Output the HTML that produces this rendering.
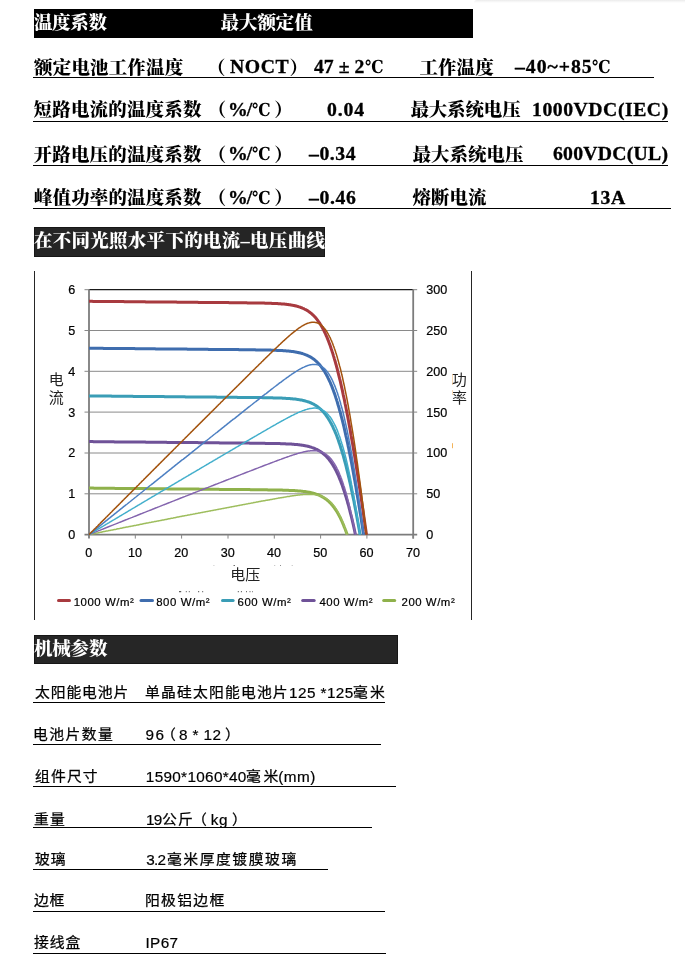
<!DOCTYPE html>
<html lang="zh-CN">
<head>
<meta charset="utf-8">
<title>温度系数 最大额定值</title>
<style>
html,body{margin:0;padding:0;background:#fff;}
body{width:685px;height:980px;position:relative;overflow:hidden;font-family:"Liberation Sans","Noto Sans CJK SC",sans-serif;color:#000;}
.t{position:absolute;white-space:pre;line-height:1;}
.ser{font-family:"Liberation Serif","Noto Serif CJK SC",serif;font-weight:900;font-size:18.5px;color:#000;}
.sel{font-family:"Liberation Serif","Noto Serif CJK SC",serif;font-weight:700;font-size:18.8px;color:#000;-webkit-text-stroke:0.3px #000;transform:scaleX(1.05);transform-origin:0 0;}
.dg{font-family:"DejaVu Serif","Liberation Serif",serif;font-weight:700;font-size:18px;color:#000;transform:scaleX(0.86);transform-origin:0 0;}
.sc{font-family:"Liberation Sans","Noto Sans CJK SC",sans-serif;font-weight:400;font-size:14.1px;color:#000;-webkit-text-stroke:0.25px #000;transform:scaleX(1.05);transform-origin:0 0;}
.sl{font-family:"Liberation Sans","Noto Sans CJK SC",sans-serif;font-weight:400;font-size:15.3px;color:#000;-webkit-text-stroke:0.2px #000;}
.bar{position:absolute;}
.hd{position:absolute;white-space:pre;line-height:1;color:#fff;font-family:"Liberation Serif","Noto Serif CJK SC",serif;font-weight:900;font-size:18.5px;}
.u{position:absolute;height:1.4px;background:#111;}
svg{position:absolute;left:0;top:0;}
svg text.ax{font-family:"Liberation Sans",sans-serif;font-size:12.6px;fill:#000;stroke:#000;stroke-width:0.2px;}
svg text.lg{font-family:"Liberation Sans",sans-serif;font-size:11.4px;fill:#000;stroke:#000;stroke-width:0.2px;}
svg text.cj{font-family:"Liberation Sans","Noto Sans CJK SC",sans-serif;font-size:15px;font-weight:400;fill:#222;}
</style>
</head>
<body>
<div class="bar" style="left:474px;top:0;width:211px;height:3px;background:linear-gradient(#ebebeb,#f6f6f6 50%,#fff);border-top-left-radius:3px;"></div>
<div class="bar" style="left:34px;top:9px;width:439px;height:29px;background:#000;"></div>
<div class="bar" style="left:34px;top:227px;width:291px;height:30px;background:#252525;border:1px solid #161616;box-sizing:border-box;"></div>
<div class="bar" style="left:34px;top:635px;width:364px;height:29px;background:#262626;border:1px solid #161616;box-sizing:border-box;"></div>

<span class="t hd" id="k1" style="left:33.9px;top:13.9px;letter-spacing:-0.316px;">温度系数</span>
<span class="t hd" id="k2" style="left:220.5px;top:13.9px;letter-spacing:-0.048px;">最大额定值</span>
<span class="t hd" id="k3" style="left:33.9px;top:232.1px;letter-spacing:0.286px;">在不同光照水平下的电流–电压曲线</span>
<span class="t hd" id="k4" style="left:33.9px;top:639.7px;letter-spacing:-0.151px;">机械参数</span>
<span class="t ser" id="k5" style="left:34.1px;top:58.7px;letter-spacing:0.150px;">额定电池工作温度</span>
<span class="t ser" id="k6" style="left:207.1px;top:58.7px;">（</span>
<span class="t sel" id="k7" style="left:229.7px;top:58.4px;letter-spacing:0.515px;">NOCT</span>
<span class="t ser" id="k8" style="left:289.5px;top:58.7px;">）</span>
<span class="t sel" id="k9" style="left:314.3px;top:58.4px;letter-spacing:0.010px;">47 ± 2</span>
<span class="t dg" id="k10" style="left:365.0px;top:58.1px;">℃</span>
<span class="t ser" id="k11" style="left:419.4px;top:58.7px;letter-spacing:0.100px;">工作温度</span>
<span class="t sel" id="k12" style="left:514.8px;top:58.4px;letter-spacing:0.924px;">–40~+85</span>
<span class="t dg" id="k13" style="left:591.5px;top:58.1px;">℃</span>
<span class="t ser" id="k14" style="left:33.6px;top:101.4px;letter-spacing:0.162px;">短路电流的温度系数</span>
<span class="t ser" id="k15" style="left:207.7px;top:101.4px;">（</span>
<span class="t sel" id="k16" style="left:228.2px;top:101.1px;letter-spacing:-0.950px;">%/</span>
<span class="t dg" id="k17" style="left:251.9px;top:100.8px;">℃</span>
<span class="t ser" id="k18" style="left:274.3px;top:101.4px;">）</span>
<span class="t sel" id="k19" style="left:326.6px;top:101.1px;letter-spacing:0.848px;">0.04</span>
<span class="t ser" id="k20" style="left:410.4px;top:101.4px;letter-spacing:-0.140px;">最大系统电压</span>
<span class="t sel" id="k21" style="left:531.5px;top:101.1px;letter-spacing:0.505px;">1000VDC(IEC)</span>
<span class="t ser" id="k22" style="left:33.6px;top:145.6px;letter-spacing:0.162px;">开路电压的温度系数</span>
<span class="t ser" id="k23" style="left:207.7px;top:145.6px;">（</span>
<span class="t sel" id="k24" style="left:228.2px;top:145.3px;letter-spacing:-0.950px;">%/</span>
<span class="t dg" id="k25" style="left:251.9px;top:145.0px;">℃</span>
<span class="t ser" id="k26" style="left:274.3px;top:145.6px;">）</span>
<span class="t sel" id="k27" style="left:308.7px;top:145.3px;letter-spacing:0.511px;">–0.34</span>
<span class="t ser" id="k28" style="left:412.5px;top:145.6px;letter-spacing:0.010px;">最大系统电压</span>
<span class="t sel" id="k29" style="left:552.8px;top:145.3px;letter-spacing:0.229px;">600VDC(UL)</span>
<span class="t ser" id="k30" style="left:33.9px;top:189.4px;letter-spacing:0.130px;">峰值功率的温度系数</span>
<span class="t ser" id="k31" style="left:207.7px;top:189.4px;">（</span>
<span class="t sel" id="k32" style="left:228.2px;top:189.1px;letter-spacing:-0.950px;">%/</span>
<span class="t dg" id="k33" style="left:251.9px;top:188.8px;">℃</span>
<span class="t ser" id="k34" style="left:274.3px;top:189.4px;">）</span>
<span class="t sel" id="k35" style="left:308.7px;top:189.1px;letter-spacing:0.574px;">–0.46</span>
<span class="t ser" id="k36" style="left:412.5px;top:189.4px;letter-spacing:0.019px;">熔断电流</span>
<span class="t sel" id="k37" style="left:589.8px;top:189.1px;letter-spacing:0.650px;">13A</span>
<span class="t sc" id="k38" style="left:34.5px;top:684.8px;letter-spacing:0.860px;">太阳能电池片</span>
<span class="t sc" id="k39" style="left:145.2px;top:684.8px;letter-spacing:1.128px;">单晶硅太阳能电池片</span>
<span class="t sl" id="k40" style="left:289.0px;top:684.8px;letter-spacing:0.435px;">125 *125</span>
<span class="t sc" id="k41" style="left:352.8px;top:684.8px;letter-spacing:2.050px;">毫米</span>
<span class="t sc" id="k42" style="left:32.8px;top:727.1px;letter-spacing:1.386px;">电池片数量</span>
<span class="t sl" id="k43" style="left:145.6px;top:727.1px;letter-spacing:1.300px;">96</span>
<span class="t sc" id="k44" style="left:160.6px;top:727.1px;">（</span>
<span class="t sl" id="k45" style="left:178.9px;top:727.1px;letter-spacing:0.410px;">8 * 12</span>
<span class="t sc" id="k46" style="left:225.4px;top:727.1px;">）</span>
<span class="t sc" id="k47" style="left:34.5px;top:768.9px;letter-spacing:1.099px;">组件尺寸</span>
<span class="t sl" id="k48" style="left:145.8px;top:768.9px;letter-spacing:0.322px;">1590*1060*40</span>
<span class="t sc" id="k49" style="left:245.9px;top:768.9px;letter-spacing:2.550px;">毫米</span>
<span class="t sl" id="k50" style="left:278.2px;top:768.9px;letter-spacing:0.518px;">(mm)</span>
<span class="t sc" id="k51" style="left:33.8px;top:811.6px;letter-spacing:1.050px;">重量</span>
<span class="t sl" id="k52" style="left:146.0px;top:811.6px;letter-spacing:-0.700px;">19</span>
<span class="t sc" id="k53" style="left:162.2px;top:811.6px;letter-spacing:1.050px;">公斤</span>
<span class="t sc" id="k54" style="left:191.5px;top:811.6px;">（</span>
<span class="t sl" id="k55" style="left:210.8px;top:811.6px;letter-spacing:0.550px;">kg</span>
<span class="t sc" id="k56" style="left:232.4px;top:811.6px;">）</span>
<span class="t sc" id="k57" style="left:34.5px;top:852.2px;letter-spacing:0.800px;">玻璃</span>
<span class="t sl" id="k58" style="left:146.3px;top:852.2px;letter-spacing:-0.725px;">3.2</span>
<span class="t sc" id="k59" style="left:166.7px;top:852.2px;letter-spacing:1.470px;">毫米厚度镀膜玻璃</span>
<span class="t sc" id="k60" style="left:34.2px;top:893.1px;letter-spacing:0.550px;">边框</span>
<span class="t sc" id="k61" style="left:144.9px;top:893.1px;letter-spacing:1.263px;">阳极铝边框</span>
<span class="t sc" id="k62" style="left:34.2px;top:935.2px;letter-spacing:0.900px;">接线盒</span>
<span class="t sl" id="k63" style="left:145.5px;top:935.2px;letter-spacing:0.352px;">IP67</span>
<svg width="685" height="980" viewBox="0 0 685 980">
<line x1="89.0" y1="493.8" x2="413.2" y2="493.8" stroke="#8a8a8a" stroke-width="1"/>
<line x1="89.0" y1="453.0" x2="413.2" y2="453.0" stroke="#8a8a8a" stroke-width="1"/>
<line x1="89.0" y1="412.1" x2="413.2" y2="412.1" stroke="#8a8a8a" stroke-width="1"/>
<line x1="89.0" y1="371.3" x2="413.2" y2="371.3" stroke="#8a8a8a" stroke-width="1"/>
<line x1="89.0" y1="330.5" x2="413.2" y2="330.5" stroke="#8a8a8a" stroke-width="1"/>
<line x1="89.0" y1="289.7" x2="413.2" y2="289.7" stroke="#1a1a1a" stroke-width="1.2"/>
<line x1="89.0" y1="289.2" x2="89.0" y2="538.6" stroke="#7c7c7c" stroke-width="1.8"/>
<line x1="413.2" y1="289.2" x2="413.2" y2="538.6" stroke="#7c7c7c" stroke-width="1.8"/>
<line x1="84.5" y1="534.6" x2="417.2" y2="534.6" stroke="#7c7c7c" stroke-width="1.8"/>
<line x1="84.5" y1="493.8" x2="89.0" y2="493.8" stroke="#868686" stroke-width="1"/>
<line x1="413.2" y1="493.8" x2="417.2" y2="493.8" stroke="#868686" stroke-width="1"/>
<line x1="84.5" y1="453.0" x2="89.0" y2="453.0" stroke="#868686" stroke-width="1"/>
<line x1="413.2" y1="453.0" x2="417.2" y2="453.0" stroke="#868686" stroke-width="1"/>
<line x1="84.5" y1="412.1" x2="89.0" y2="412.1" stroke="#868686" stroke-width="1"/>
<line x1="413.2" y1="412.1" x2="417.2" y2="412.1" stroke="#868686" stroke-width="1"/>
<line x1="84.5" y1="371.3" x2="89.0" y2="371.3" stroke="#868686" stroke-width="1"/>
<line x1="413.2" y1="371.3" x2="417.2" y2="371.3" stroke="#868686" stroke-width="1"/>
<line x1="84.5" y1="330.5" x2="89.0" y2="330.5" stroke="#868686" stroke-width="1"/>
<line x1="413.2" y1="330.5" x2="417.2" y2="330.5" stroke="#868686" stroke-width="1"/>
<line x1="84.5" y1="289.7" x2="89.0" y2="289.7" stroke="#868686" stroke-width="1"/>
<line x1="413.2" y1="289.7" x2="417.2" y2="289.7" stroke="#868686" stroke-width="1"/>
<line x1="135.3" y1="534.6" x2="135.3" y2="538.6" stroke="#868686" stroke-width="1"/>
<line x1="181.6" y1="534.6" x2="181.6" y2="538.6" stroke="#868686" stroke-width="1"/>
<line x1="228.0" y1="534.6" x2="228.0" y2="538.6" stroke="#868686" stroke-width="1"/>
<line x1="274.3" y1="534.6" x2="274.3" y2="538.6" stroke="#868686" stroke-width="1"/>
<line x1="320.6" y1="534.6" x2="320.6" y2="538.6" stroke="#868686" stroke-width="1"/>
<line x1="366.9" y1="534.6" x2="366.9" y2="538.6" stroke="#868686" stroke-width="1"/>
<line x1="413.2" y1="534.6" x2="413.2" y2="538.6" stroke="#868686" stroke-width="1"/>
<path d="M89.0 488.1 L89.7 488.1 L90.6 488.1 L91.5 488.1 L92.3 488.1 L93.2 488.1 L94.1 488.2 L95.0 488.2 L95.9 488.2 L96.7 488.2 L97.6 488.2 L98.5 488.2 L99.4 488.2 L100.2 488.2 L101.1 488.2 L102.0 488.2 L102.9 488.2 L103.8 488.2 L104.6 488.3 L105.5 488.3 L106.4 488.3 L107.3 488.3 L108.2 488.3 L109.0 488.3 L109.9 488.3 L110.8 488.3 L111.7 488.3 L112.5 488.3 L113.4 488.3 L114.3 488.3 L115.2 488.4 L116.1 488.4 L116.9 488.4 L117.8 488.4 L118.7 488.4 L119.6 488.4 L120.4 488.4 L121.3 488.4 L122.2 488.4 L123.1 488.4 L124.0 488.4 L124.8 488.4 L125.7 488.5 L126.6 488.5 L127.5 488.5 L128.4 488.5 L129.2 488.5 L130.1 488.5 L131.0 488.5 L131.9 488.5 L132.7 488.5 L133.6 488.5 L134.5 488.5 L135.4 488.5 L136.3 488.6 L137.1 488.6 L138.0 488.6 L138.9 488.6 L139.8 488.6 L140.7 488.6 L141.5 488.6 L142.4 488.6 L143.3 488.6 L144.2 488.6 L145.0 488.6 L145.9 488.6 L146.8 488.7 L147.7 488.7 L148.6 488.7 L149.4 488.7 L150.3 488.7 L151.2 488.7 L152.1 488.7 L153.0 488.7 L153.8 488.7 L154.7 488.7 L155.6 488.7 L156.5 488.7 L157.3 488.8 L158.2 488.8 L159.1 488.8 L160.0 488.8 L160.9 488.8 L161.7 488.8 L162.6 488.8 L163.5 488.8 L164.4 488.8 L165.3 488.8 L166.1 488.8 L167.0 488.8 L167.9 488.9 L168.8 488.9 L169.6 488.9 L170.5 488.9 L171.4 488.9 L172.3 488.9 L173.2 488.9 L174.0 488.9 L174.9 488.9 L175.8 488.9 L176.7 488.9 L177.6 488.9 L178.4 489.0 L179.3 489.0 L180.2 489.0 L181.1 489.0 L181.9 489.0 L182.8 489.0 L183.7 489.0 L184.6 489.0 L185.5 489.0 L186.3 489.0 L187.2 489.0 L188.1 489.0 L189.0 489.1 L189.9 489.1 L190.7 489.1 L191.6 489.1 L192.5 489.1 L193.4 489.1 L194.2 489.1 L195.1 489.1 L196.0 489.1 L196.9 489.1 L197.8 489.1 L198.6 489.1 L199.5 489.2 L200.4 489.2 L201.3 489.2 L202.2 489.2 L203.0 489.2 L203.9 489.2 L204.8 489.2 L205.7 489.2 L206.5 489.2 L207.4 489.2 L208.3 489.2 L209.2 489.3 L210.1 489.3 L210.9 489.3 L211.8 489.3 L212.7 489.3 L213.6 489.3 L214.5 489.3 L215.3 489.3 L216.2 489.3 L217.1 489.3 L218.0 489.3 L218.8 489.3 L219.7 489.4 L220.6 489.4 L221.5 489.4 L222.4 489.4 L223.2 489.4 L224.1 489.4 L225.0 489.4 L225.9 489.4 L226.8 489.4 L227.6 489.4 L228.5 489.4 L229.4 489.4 L230.3 489.5 L231.1 489.5 L232.0 489.5 L232.9 489.5 L233.8 489.5 L234.7 489.5 L235.5 489.5 L236.4 489.5 L237.3 489.5 L238.2 489.5 L239.1 489.5 L239.9 489.5 L240.8 489.6 L241.7 489.6 L242.6 489.6 L243.4 489.6 L244.3 489.6 L245.2 489.6 L246.1 489.6 L247.0 489.6 L247.8 489.6 L248.7 489.6 L249.6 489.6 L250.5 489.7 L251.4 489.7 L252.2 489.7 L253.1 489.7 L254.0 489.7 L254.9 489.7 L255.7 489.7 L256.6 489.7 L257.5 489.7 L258.4 489.7 L259.3 489.8 L260.1 489.8 L261.0 489.8 L261.9 489.8 L262.8 489.8 L263.7 489.8 L264.5 489.8 L265.4 489.8 L266.3 489.8 L267.2 489.8 L268.0 489.9 L268.9 489.9 L269.8 489.9 L270.7 489.9 L271.6 489.9 L272.4 489.9 L273.3 489.9 L274.2 490.0 L275.1 490.0 L276.0 490.0 L276.8 490.0 L277.7 490.0 L278.6 490.0 L279.5 490.1 L280.4 490.1 L281.2 490.1 L282.1 490.1 L283.0 490.2 L283.9 490.2 L284.8 490.2 L285.6 490.2 L286.5 490.3 L287.4 490.3 L288.3 490.3 L289.2 490.4 L290.0 490.4 L290.9 490.4 L291.8 490.5 L292.7 490.5 L293.6 490.6 L294.5 490.6 L295.3 490.7 L296.2 490.7 L297.1 490.8 L298.0 490.9 L298.9 490.9 L299.8 491.0 L300.6 491.1 L301.5 491.2 L302.4 491.3 L303.3 491.4 L304.2 491.5 L305.1 491.6 L306.0 491.7 L306.9 491.9 L307.7 492.0 L308.6 492.2 L309.5 492.3 L310.4 492.5 L311.3 492.7 L312.2 492.9 L313.1 493.2 L313.7 493.3 L314.3 493.5 L314.9 493.7 L315.5 493.9 L316.1 494.1 L316.7 494.3 L317.3 494.5 L317.9 494.7 L318.6 495.0 L319.2 495.2 L319.8 495.5 L320.4 495.8 L321.0 496.1 L321.6 496.4 L322.2 496.8 L322.8 497.1 L323.5 497.5 L324.1 497.9 L324.7 498.3 L325.3 498.7 L326.0 499.2 L326.6 499.7 L327.2 500.2 L327.9 500.7 L328.5 501.3 L329.1 501.9 L329.8 502.5 L330.4 503.1 L331.1 503.8 L331.7 504.6 L332.4 505.3 L333.0 506.2 L333.7 507.0 L334.4 507.9 L335.0 508.9 L335.7 509.9 L336.4 510.9 L337.1 512.0 L337.8 513.2 L338.1 513.8 L338.5 514.5 L338.8 515.1 L339.2 515.8 L339.5 516.4 L339.9 517.1 L340.3 517.8 L340.6 518.6 L341.0 519.3 L341.3 520.1 L341.7 520.9 L342.1 521.7 L342.4 522.5 L342.8 523.4 L343.2 524.3 L343.6 525.2 L343.9 526.1 L344.3 527.1 L344.7 528.0 L345.1 529.0 L345.5 530.1 L345.9 531.1 L346.3 532.2 L346.7 533.3 L347.1 534.5 L347.1 534.6" fill="none" stroke="#8FB14B" stroke-width="3" stroke-linejoin="round"/>
<path d="M89.0 441.6 L89.8 441.6 L90.4 441.6 L91.0 441.6 L91.6 441.6 L92.2 441.6 L92.8 441.6 L93.4 441.7 L94.0 441.7 L94.6 441.7 L95.2 441.7 L95.8 441.7 L96.4 441.7 L97.0 441.7 L97.6 441.7 L98.3 441.7 L98.9 441.7 L99.5 441.7 L100.1 441.7 L100.7 441.7 L101.3 441.7 L101.9 441.7 L102.5 441.7 L103.1 441.7 L103.7 441.8 L104.3 441.8 L104.9 441.8 L105.5 441.8 L106.1 441.8 L106.7 441.8 L107.3 441.8 L107.9 441.8 L108.5 441.8 L109.1 441.8 L109.7 441.8 L110.3 441.8 L110.9 441.8 L111.5 441.8 L112.1 441.8 L112.7 441.8 L113.3 441.8 L113.9 441.8 L114.5 441.9 L115.2 441.9 L115.8 441.9 L116.4 441.9 L117.0 441.9 L117.6 441.9 L118.2 441.9 L118.8 441.9 L119.4 441.9 L120.0 441.9 L120.6 441.9 L121.2 441.9 L121.8 441.9 L122.4 441.9 L123.0 441.9 L123.6 441.9 L124.2 441.9 L124.8 442.0 L125.4 442.0 L126.0 442.0 L126.6 442.0 L127.2 442.0 L127.8 442.0 L128.4 442.0 L129.0 442.0 L129.6 442.0 L130.2 442.0 L130.8 442.0 L131.4 442.0 L132.1 442.0 L132.7 442.0 L133.3 442.0 L133.9 442.0 L134.5 442.0 L135.1 442.1 L135.7 442.1 L136.3 442.1 L136.9 442.1 L137.5 442.1 L138.1 442.1 L138.7 442.1 L139.3 442.1 L139.9 442.1 L140.5 442.1 L141.1 442.1 L141.7 442.1 L142.3 442.1 L142.9 442.1 L143.5 442.1 L144.1 442.1 L144.7 442.1 L145.3 442.1 L145.9 442.2 L146.5 442.2 L147.1 442.2 L147.7 442.2 L148.3 442.2 L149.0 442.2 L149.6 442.2 L150.2 442.2 L150.8 442.2 L151.4 442.2 L152.0 442.2 L152.6 442.2 L153.2 442.2 L153.8 442.2 L154.4 442.2 L155.0 442.2 L155.6 442.2 L156.2 442.3 L156.8 442.3 L157.4 442.3 L158.0 442.3 L158.6 442.3 L159.2 442.3 L159.8 442.3 L160.4 442.3 L161.0 442.3 L161.6 442.3 L162.2 442.3 L162.8 442.3 L163.4 442.3 L164.0 442.3 L164.6 442.3 L165.2 442.3 L165.9 442.3 L166.5 442.3 L167.1 442.4 L167.7 442.4 L168.3 442.4 L168.9 442.4 L169.5 442.4 L170.1 442.4 L170.7 442.4 L171.3 442.4 L171.9 442.4 L172.5 442.4 L173.1 442.4 L173.7 442.4 L174.3 442.4 L174.9 442.4 L175.5 442.4 L176.1 442.4 L176.7 442.4 L177.3 442.5 L177.9 442.5 L178.5 442.5 L179.1 442.5 L179.7 442.5 L180.3 442.5 L180.9 442.5 L181.5 442.5 L182.1 442.5 L182.8 442.5 L183.4 442.5 L184.0 442.5 L184.6 442.5 L185.2 442.5 L185.8 442.5 L186.4 442.5 L187.0 442.5 L187.6 442.6 L188.2 442.6 L188.8 442.6 L189.4 442.6 L190.0 442.6 L190.6 442.6 L191.2 442.6 L191.8 442.6 L192.4 442.6 L193.0 442.6 L193.6 442.6 L194.2 442.6 L194.8 442.6 L195.4 442.6 L196.0 442.6 L196.6 442.6 L197.2 442.6 L197.8 442.6 L198.4 442.7 L199.0 442.7 L199.7 442.7 L200.3 442.7 L200.9 442.7 L201.5 442.7 L202.1 442.7 L202.7 442.7 L203.3 442.7 L203.9 442.7 L204.5 442.7 L205.1 442.7 L205.7 442.7 L206.3 442.7 L206.9 442.7 L207.5 442.7 L208.1 442.7 L208.7 442.8 L209.3 442.8 L209.9 442.8 L210.5 442.8 L211.1 442.8 L211.7 442.8 L212.3 442.8 L212.9 442.8 L213.5 442.8 L214.1 442.8 L214.7 442.8 L215.3 442.8 L215.9 442.8 L216.6 442.8 L217.2 442.8 L217.8 442.8 L218.4 442.8 L219.0 442.8 L219.6 442.9 L220.2 442.9 L220.8 442.9 L221.4 442.9 L222.0 442.9 L222.6 442.9 L223.2 442.9 L223.8 442.9 L224.4 442.9 L225.0 442.9 L225.6 442.9 L226.2 442.9 L226.8 442.9 L227.4 442.9 L228.0 442.9 L228.6 442.9 L229.2 442.9 L229.8 443.0 L230.4 443.0 L231.0 443.0 L231.6 443.0 L232.2 443.0 L232.8 443.0 L233.5 443.0 L234.1 443.0 L234.7 443.0 L235.3 443.0 L235.9 443.0 L236.5 443.0 L237.1 443.0 L237.7 443.0 L238.3 443.0 L238.9 443.0 L239.5 443.0 L240.1 443.1 L240.7 443.1 L241.3 443.1 L241.9 443.1 L242.5 443.1 L243.1 443.1 L243.7 443.1 L244.3 443.1 L244.9 443.1 L245.5 443.1 L246.1 443.1 L246.7 443.1 L247.3 443.1 L247.9 443.1 L248.5 443.1 L249.1 443.1 L249.8 443.2 L250.4 443.2 L251.0 443.2 L251.6 443.2 L252.2 443.2 L252.8 443.2 L253.4 443.2 L254.0 443.2 L254.6 443.2 L255.2 443.2 L255.8 443.2 L256.4 443.2 L257.0 443.2 L257.6 443.2 L258.2 443.3 L258.8 443.3 L259.4 443.3 L260.0 443.3 L260.6 443.3 L261.2 443.3 L261.8 443.3 L262.4 443.3 L263.0 443.3 L263.6 443.3 L264.2 443.3 L264.8 443.3 L265.4 443.4 L266.1 443.4 L266.7 443.4 L267.3 443.4 L267.9 443.4 L268.5 443.4 L269.1 443.4 L269.7 443.4 L270.3 443.4 L270.9 443.4 L271.5 443.4 L272.1 443.5 L272.7 443.5 L273.3 443.5 L273.9 443.5 L274.5 443.5 L275.1 443.5 L275.7 443.5 L276.3 443.6 L276.9 443.6 L277.5 443.6 L278.1 443.6 L278.7 443.6 L279.3 443.6 L279.9 443.6 L280.6 443.7 L281.2 443.7 L281.8 443.7 L282.4 443.7 L283.0 443.7 L283.6 443.8 L284.2 443.8 L284.8 443.8 L285.4 443.8 L286.0 443.9 L286.6 443.9 L287.2 443.9 L287.8 443.9 L288.4 444.0 L289.0 444.0 L289.6 444.0 L290.2 444.1 L290.8 444.1 L291.5 444.1 L292.1 444.2 L292.7 444.2 L293.3 444.3 L293.9 444.3 L294.5 444.4 L295.1 444.4 L295.7 444.5 L296.3 444.5 L296.9 444.6 L297.5 444.6 L298.1 444.7 L298.7 444.8 L299.4 444.8 L300.0 444.9 L300.6 445.0 L301.2 445.1 L301.8 445.2 L302.4 445.2 L303.0 445.3 L303.6 445.4 L304.2 445.6 L304.9 445.7 L305.5 445.8 L306.1 445.9 L306.7 446.0 L307.3 446.2 L307.9 446.3 L308.6 446.5 L309.2 446.6 L309.8 446.8 L310.4 447.0 L311.0 447.2 L311.6 447.4 L312.3 447.6 L312.9 447.8 L313.5 448.0 L314.1 448.3 L314.8 448.5 L315.4 448.8 L316.0 449.1 L316.7 449.4 L317.3 449.7 L317.9 450.0 L318.6 450.4 L319.2 450.8 L319.8 451.1 L320.5 451.6 L321.1 452.0 L321.8 452.5 L322.4 452.9 L323.1 453.5 L323.7 454.0 L324.4 454.6 L325.0 455.2 L325.7 455.8 L326.4 456.5 L327.0 457.2 L327.7 457.9 L328.4 458.7 L329.1 459.6 L329.7 460.5 L330.4 461.4 L331.1 462.4 L331.8 463.4 L332.5 464.5 L333.2 465.6 L333.6 466.2 L333.9 466.9 L334.3 467.5 L334.7 468.1 L335.0 468.8 L335.4 469.5 L335.8 470.2 L336.1 470.9 L336.5 471.7 L336.9 472.4 L337.2 473.2 L337.6 474.0 L338.0 474.9 L338.4 475.7 L338.8 476.6 L339.1 477.5 L339.5 478.4 L339.9 479.4 L340.3 480.3 L340.7 481.3 L341.1 482.4 L341.5 483.4 L341.9 484.5 L342.3 485.6 L342.7 486.8 L343.1 488.0 L343.5 489.2 L343.9 490.4 L344.4 491.7 L344.8 493.0 L345.2 494.4 L345.6 495.8 L346.1 497.2 L346.5 498.7 L347.0 500.2 L347.4 501.7 L347.8 503.3 L348.3 504.9 L348.8 506.6 L349.2 508.3 L349.7 510.1 L350.1 511.9 L350.6 513.8 L351.1 515.7 L351.6 517.7 L352.1 519.7 L352.6 521.8 L353.1 523.9 L353.6 526.1 L354.1 528.4 L354.6 530.7 L355.1 533.1 L355.4 534.6" fill="none" stroke="#6F5298" stroke-width="3" stroke-linejoin="round"/>
<path d="M89.0 395.9 L89.7 395.9 L90.4 395.9 L91.0 396.0 L91.6 396.0 L92.2 396.0 L92.8 396.0 L93.4 396.0 L94.0 396.0 L94.7 396.0 L95.3 396.0 L95.9 396.0 L96.5 396.0 L97.1 396.0 L97.7 396.0 L98.3 396.0 L98.9 396.0 L99.6 396.0 L100.2 396.0 L100.8 396.0 L101.4 396.1 L102.0 396.1 L102.6 396.1 L103.2 396.1 L103.9 396.1 L104.5 396.1 L105.1 396.1 L105.7 396.1 L106.3 396.1 L106.9 396.1 L107.5 396.1 L108.2 396.1 L108.8 396.1 L109.4 396.1 L110.0 396.1 L110.6 396.1 L111.2 396.1 L111.8 396.2 L112.4 396.2 L113.1 396.2 L113.7 396.2 L114.3 396.2 L114.9 396.2 L115.5 396.2 L116.1 396.2 L116.7 396.2 L117.4 396.2 L118.0 396.2 L118.6 396.2 L119.2 396.2 L119.8 396.2 L120.4 396.2 L121.0 396.2 L121.7 396.2 L122.3 396.3 L122.9 396.3 L123.5 396.3 L124.1 396.3 L124.7 396.3 L125.3 396.3 L125.9 396.3 L126.6 396.3 L127.2 396.3 L127.8 396.3 L128.4 396.3 L129.0 396.3 L129.6 396.3 L130.2 396.3 L130.9 396.3 L131.5 396.3 L132.1 396.3 L132.7 396.3 L133.3 396.4 L133.9 396.4 L134.5 396.4 L135.2 396.4 L135.8 396.4 L136.4 396.4 L137.0 396.4 L137.6 396.4 L138.2 396.4 L138.8 396.4 L139.5 396.4 L140.1 396.4 L140.7 396.4 L141.3 396.4 L141.9 396.4 L142.5 396.4 L143.1 396.4 L143.7 396.5 L144.4 396.5 L145.0 396.5 L145.6 396.5 L146.2 396.5 L146.8 396.5 L147.4 396.5 L148.0 396.5 L148.7 396.5 L149.3 396.5 L149.9 396.5 L150.5 396.5 L151.1 396.5 L151.7 396.5 L152.3 396.5 L153.0 396.5 L153.6 396.5 L154.2 396.6 L154.8 396.6 L155.4 396.6 L156.0 396.6 L156.6 396.6 L157.2 396.6 L157.9 396.6 L158.5 396.6 L159.1 396.6 L159.7 396.6 L160.3 396.6 L160.9 396.6 L161.5 396.6 L162.2 396.6 L162.8 396.6 L163.4 396.6 L164.0 396.6 L164.6 396.7 L165.2 396.7 L165.8 396.7 L166.5 396.7 L167.1 396.7 L167.7 396.7 L168.3 396.7 L168.9 396.7 L169.5 396.7 L170.1 396.7 L170.7 396.7 L171.4 396.7 L172.0 396.7 L172.6 396.7 L173.2 396.7 L173.8 396.7 L174.4 396.7 L175.0 396.8 L175.7 396.8 L176.3 396.8 L176.9 396.8 L177.5 396.8 L178.1 396.8 L178.7 396.8 L179.3 396.8 L180.0 396.8 L180.6 396.8 L181.2 396.8 L181.8 396.8 L182.4 396.8 L183.0 396.8 L183.6 396.8 L184.2 396.8 L184.9 396.8 L185.5 396.9 L186.1 396.9 L186.7 396.9 L187.3 396.9 L187.9 396.9 L188.5 396.9 L189.2 396.9 L189.8 396.9 L190.4 396.9 L191.0 396.9 L191.6 396.9 L192.2 396.9 L192.8 396.9 L193.5 396.9 L194.1 396.9 L194.7 396.9 L195.3 396.9 L195.9 397.0 L196.5 397.0 L197.1 397.0 L197.7 397.0 L198.4 397.0 L199.0 397.0 L199.6 397.0 L200.2 397.0 L200.8 397.0 L201.4 397.0 L202.0 397.0 L202.7 397.0 L203.3 397.0 L203.9 397.0 L204.5 397.0 L205.1 397.0 L205.7 397.0 L206.3 397.1 L207.0 397.1 L207.6 397.1 L208.2 397.1 L208.8 397.1 L209.4 397.1 L210.0 397.1 L210.6 397.1 L211.2 397.1 L211.9 397.1 L212.5 397.1 L213.1 397.1 L213.7 397.1 L214.3 397.1 L214.9 397.1 L215.5 397.1 L216.2 397.1 L216.8 397.2 L217.4 397.2 L218.0 397.2 L218.6 397.2 L219.2 397.2 L219.8 397.2 L220.5 397.2 L221.1 397.2 L221.7 397.2 L222.3 397.2 L222.9 397.2 L223.5 397.2 L224.1 397.2 L224.7 397.2 L225.4 397.2 L226.0 397.2 L226.6 397.2 L227.2 397.3 L227.8 397.3 L228.4 397.3 L229.0 397.3 L229.7 397.3 L230.3 397.3 L230.9 397.3 L231.5 397.3 L232.1 397.3 L232.7 397.3 L233.3 397.3 L234.0 397.3 L234.6 397.3 L235.2 397.3 L235.8 397.3 L236.4 397.3 L237.0 397.3 L237.6 397.4 L238.3 397.4 L238.9 397.4 L239.5 397.4 L240.1 397.4 L240.7 397.4 L241.3 397.4 L241.9 397.4 L242.5 397.4 L243.2 397.4 L243.8 397.4 L244.4 397.4 L245.0 397.4 L245.6 397.4 L246.2 397.4 L246.8 397.5 L247.5 397.5 L248.1 397.5 L248.7 397.5 L249.3 397.5 L249.9 397.5 L250.5 397.5 L251.1 397.5 L251.8 397.5 L252.4 397.5 L253.0 397.5 L253.6 397.5 L254.2 397.5 L254.8 397.5 L255.4 397.6 L256.0 397.6 L256.7 397.6 L257.3 397.6 L257.9 397.6 L258.5 397.6 L259.1 397.6 L259.7 397.6 L260.3 397.6 L261.0 397.6 L261.6 397.6 L262.2 397.6 L262.8 397.7 L263.4 397.7 L264.0 397.7 L264.6 397.7 L265.3 397.7 L265.9 397.7 L266.5 397.7 L267.1 397.7 L267.7 397.7 L268.3 397.8 L268.9 397.8 L269.6 397.8 L270.2 397.8 L270.8 397.8 L271.4 397.8 L272.0 397.8 L272.6 397.8 L273.2 397.9 L273.9 397.9 L274.5 397.9 L275.1 397.9 L275.7 397.9 L276.3 397.9 L276.9 398.0 L277.5 398.0 L278.2 398.0 L278.8 398.0 L279.4 398.0 L280.0 398.1 L280.6 398.1 L281.2 398.1 L281.9 398.1 L282.5 398.2 L283.1 398.2 L283.7 398.2 L284.3 398.3 L284.9 398.3 L285.5 398.3 L286.2 398.4 L286.8 398.4 L287.4 398.4 L288.0 398.5 L288.6 398.5 L289.2 398.6 L289.9 398.6 L290.5 398.7 L291.1 398.7 L291.7 398.8 L292.3 398.8 L293.0 398.9 L293.6 398.9 L294.2 399.0 L294.8 399.1 L295.4 399.1 L296.1 399.2 L296.7 399.3 L297.3 399.4 L297.9 399.5 L298.5 399.6 L299.2 399.7 L299.8 399.8 L300.4 399.9 L301.0 400.0 L301.7 400.1 L302.3 400.2 L302.9 400.4 L303.5 400.5 L304.2 400.7 L304.8 400.8 L305.4 401.0 L306.0 401.2 L306.7 401.4 L307.3 401.6 L307.9 401.8 L308.6 402.0 L309.2 402.2 L309.8 402.5 L310.5 402.7 L311.1 403.0 L311.8 403.3 L312.4 403.6 L313.0 403.9 L313.7 404.2 L314.3 404.6 L315.0 405.0 L315.6 405.4 L316.3 405.8 L316.9 406.2 L317.6 406.7 L318.2 407.2 L318.9 407.7 L319.6 408.3 L320.2 408.8 L320.9 409.5 L321.6 410.1 L322.3 410.8 L322.9 411.5 L323.6 412.3 L324.3 413.1 L325.0 413.9 L325.7 414.8 L326.4 415.8 L327.1 416.8 L327.8 417.8 L328.5 419.0 L329.2 420.1 L329.6 420.8 L330.0 421.4 L330.3 422.0 L330.7 422.7 L331.1 423.4 L331.5 424.1 L331.8 424.8 L332.2 425.6 L332.6 426.3 L333.0 427.1 L333.3 427.9 L333.7 428.8 L334.1 429.6 L334.5 430.5 L334.9 431.4 L335.3 432.4 L335.7 433.3 L336.1 434.3 L336.5 435.3 L336.9 436.3 L337.3 437.4 L337.7 438.5 L338.1 439.6 L338.5 440.8 L338.9 442.0 L339.3 443.2 L339.8 444.5 L340.2 445.8 L340.6 447.1 L341.0 448.5 L341.5 449.9 L341.9 451.3 L342.4 452.8 L342.8 454.3 L343.3 455.9 L343.7 457.5 L344.2 459.2 L344.6 460.9 L345.1 462.6 L345.6 464.4 L346.1 466.3 L346.5 468.2 L347.0 470.1 L347.5 472.2 L348.0 474.2 L348.5 476.3 L349.0 478.5 L349.5 480.8 L350.1 483.1 L350.6 485.5 L351.1 487.9 L351.6 490.4 L352.2 493.0 L352.7 495.6 L353.3 498.3 L353.9 501.1 L354.4 504.0 L355.0 507.0 L355.6 510.0 L356.2 513.1 L356.8 516.4 L357.4 519.7 L358.0 523.1 L358.6 526.5 L359.3 530.1 L359.9 533.8 L360.1 534.6" fill="none" stroke="#3A9DB6" stroke-width="3" stroke-linejoin="round"/>
<path d="M89.0 348.2 L89.9 348.2 L90.5 348.2 L91.1 348.2 L91.7 348.2 L92.4 348.2 L93.0 348.3 L93.6 348.3 L94.2 348.3 L94.8 348.3 L95.5 348.3 L96.1 348.3 L96.7 348.3 L97.3 348.3 L98.0 348.3 L98.6 348.3 L99.2 348.3 L99.8 348.3 L100.4 348.3 L101.1 348.3 L101.7 348.3 L102.3 348.3 L102.9 348.3 L103.5 348.4 L104.2 348.4 L104.8 348.4 L105.4 348.4 L106.0 348.4 L106.7 348.4 L107.3 348.4 L107.9 348.4 L108.5 348.4 L109.1 348.4 L109.8 348.4 L110.4 348.4 L111.0 348.4 L111.6 348.4 L112.2 348.4 L112.9 348.4 L113.5 348.4 L114.1 348.5 L114.7 348.5 L115.3 348.5 L116.0 348.5 L116.6 348.5 L117.2 348.5 L117.8 348.5 L118.5 348.5 L119.1 348.5 L119.7 348.5 L120.3 348.5 L120.9 348.5 L121.6 348.5 L122.2 348.5 L122.8 348.5 L123.4 348.5 L124.0 348.5 L124.7 348.6 L125.3 348.6 L125.9 348.6 L126.5 348.6 L127.2 348.6 L127.8 348.6 L128.4 348.6 L129.0 348.6 L129.6 348.6 L130.3 348.6 L130.9 348.6 L131.5 348.6 L132.1 348.6 L132.7 348.6 L133.4 348.6 L134.0 348.6 L134.6 348.6 L135.2 348.7 L135.9 348.7 L136.5 348.7 L137.1 348.7 L137.7 348.7 L138.3 348.7 L139.0 348.7 L139.6 348.7 L140.2 348.7 L140.8 348.7 L141.4 348.7 L142.1 348.7 L142.7 348.7 L143.3 348.7 L143.9 348.7 L144.6 348.7 L145.2 348.8 L145.8 348.8 L146.4 348.8 L147.0 348.8 L147.7 348.8 L148.3 348.8 L148.9 348.8 L149.5 348.8 L150.1 348.8 L150.8 348.8 L151.4 348.8 L152.0 348.8 L152.6 348.8 L153.3 348.8 L153.9 348.8 L154.5 348.8 L155.1 348.8 L155.7 348.9 L156.4 348.9 L157.0 348.9 L157.6 348.9 L158.2 348.9 L158.8 348.9 L159.5 348.9 L160.1 348.9 L160.7 348.9 L161.3 348.9 L162.0 348.9 L162.6 348.9 L163.2 348.9 L163.8 348.9 L164.4 348.9 L165.1 348.9 L165.7 348.9 L166.3 349.0 L166.9 349.0 L167.5 349.0 L168.2 349.0 L168.8 349.0 L169.4 349.0 L170.0 349.0 L170.7 349.0 L171.3 349.0 L171.9 349.0 L172.5 349.0 L173.1 349.0 L173.8 349.0 L174.4 349.0 L175.0 349.0 L175.6 349.0 L176.2 349.0 L176.9 349.1 L177.5 349.1 L178.1 349.1 L178.7 349.1 L179.4 349.1 L180.0 349.1 L180.6 349.1 L181.2 349.1 L181.8 349.1 L182.5 349.1 L183.1 349.1 L183.7 349.1 L184.3 349.1 L184.9 349.1 L185.6 349.1 L186.2 349.1 L186.8 349.1 L187.4 349.2 L188.1 349.2 L188.7 349.2 L189.3 349.2 L189.9 349.2 L190.5 349.2 L191.2 349.2 L191.8 349.2 L192.4 349.2 L193.0 349.2 L193.6 349.2 L194.3 349.2 L194.9 349.2 L195.5 349.2 L196.1 349.2 L196.8 349.2 L197.4 349.2 L198.0 349.3 L198.6 349.3 L199.2 349.3 L199.9 349.3 L200.5 349.3 L201.1 349.3 L201.7 349.3 L202.3 349.3 L203.0 349.3 L203.6 349.3 L204.2 349.3 L204.8 349.3 L205.4 349.3 L206.1 349.3 L206.7 349.3 L207.3 349.3 L207.9 349.3 L208.6 349.4 L209.2 349.4 L209.8 349.4 L210.4 349.4 L211.0 349.4 L211.7 349.4 L212.3 349.4 L212.9 349.4 L213.5 349.4 L214.1 349.4 L214.8 349.4 L215.4 349.4 L216.0 349.4 L216.6 349.4 L217.3 349.4 L217.9 349.4 L218.5 349.5 L219.1 349.5 L219.7 349.5 L220.4 349.5 L221.0 349.5 L221.6 349.5 L222.2 349.5 L222.8 349.5 L223.5 349.5 L224.1 349.5 L224.7 349.5 L225.3 349.5 L226.0 349.5 L226.6 349.5 L227.2 349.5 L227.8 349.5 L228.4 349.5 L229.1 349.6 L229.7 349.6 L230.3 349.6 L230.9 349.6 L231.5 349.6 L232.2 349.6 L232.8 349.6 L233.4 349.6 L234.0 349.6 L234.7 349.6 L235.3 349.6 L235.9 349.6 L236.5 349.6 L237.1 349.6 L237.8 349.6 L238.4 349.6 L239.0 349.7 L239.6 349.7 L240.2 349.7 L240.9 349.7 L241.5 349.7 L242.1 349.7 L242.7 349.7 L243.4 349.7 L244.0 349.7 L244.6 349.7 L245.2 349.7 L245.8 349.7 L246.5 349.7 L247.1 349.7 L247.7 349.8 L248.3 349.8 L248.9 349.8 L249.6 349.8 L250.2 349.8 L250.8 349.8 L251.4 349.8 L252.1 349.8 L252.7 349.8 L253.3 349.8 L253.9 349.8 L254.5 349.8 L255.2 349.8 L255.8 349.9 L256.4 349.9 L257.0 349.9 L257.7 349.9 L258.3 349.9 L258.9 349.9 L259.5 349.9 L260.1 349.9 L260.8 349.9 L261.4 349.9 L262.0 350.0 L262.6 350.0 L263.2 350.0 L263.9 350.0 L264.5 350.0 L265.1 350.0 L265.7 350.0 L266.4 350.0 L267.0 350.1 L267.6 350.1 L268.2 350.1 L268.8 350.1 L269.5 350.1 L270.1 350.1 L270.7 350.1 L271.3 350.2 L272.0 350.2 L272.6 350.2 L273.2 350.2 L273.8 350.2 L274.4 350.3 L275.1 350.3 L275.7 350.3 L276.3 350.3 L276.9 350.4 L277.6 350.4 L278.2 350.4 L278.8 350.4 L279.4 350.5 L280.1 350.5 L280.7 350.5 L281.3 350.6 L281.9 350.6 L282.6 350.6 L283.2 350.7 L283.8 350.7 L284.4 350.8 L285.1 350.8 L285.7 350.8 L286.3 350.9 L286.9 350.9 L287.6 351.0 L288.2 351.1 L288.8 351.1 L289.4 351.2 L290.1 351.3 L290.7 351.3 L291.3 351.4 L291.9 351.5 L292.6 351.6 L293.2 351.6 L293.8 351.7 L294.5 351.8 L295.1 351.9 L295.7 352.0 L296.4 352.2 L297.0 352.3 L297.6 352.4 L298.2 352.5 L298.9 352.7 L299.5 352.8 L300.2 353.0 L300.8 353.1 L301.4 353.3 L302.1 353.5 L302.7 353.7 L303.3 353.9 L304.0 354.1 L304.6 354.3 L305.3 354.6 L305.9 354.8 L306.6 355.1 L307.2 355.4 L307.8 355.7 L308.5 356.0 L309.1 356.3 L309.8 356.7 L310.5 357.0 L311.1 357.4 L311.8 357.8 L312.4 358.3 L313.1 358.7 L313.8 359.2 L314.4 359.7 L315.1 360.3 L315.8 360.9 L316.5 361.5 L317.1 362.1 L317.8 362.8 L318.5 363.5 L319.2 364.3 L319.9 365.1 L320.6 365.9 L321.3 366.8 L322.0 367.8 L322.7 368.8 L323.4 369.8 L324.2 370.9 L324.9 372.1 L325.2 372.7 L325.6 373.4 L326.0 374.0 L326.4 374.7 L326.7 375.4 L327.1 376.1 L327.5 376.8 L327.9 377.6 L328.2 378.3 L328.6 379.1 L329.0 380.0 L329.4 380.8 L329.8 381.6 L330.2 382.5 L330.6 383.4 L331.0 384.4 L331.4 385.3 L331.8 386.3 L332.2 387.4 L332.6 388.4 L333.0 389.5 L333.4 390.6 L333.8 391.7 L334.2 392.9 L334.7 394.1 L335.1 395.3 L335.5 396.6 L335.9 397.9 L336.4 399.3 L336.8 400.6 L337.3 402.1 L337.7 403.5 L338.1 405.0 L338.6 406.6 L339.1 408.2 L339.5 409.8 L340.0 411.5 L340.5 413.2 L340.9 415.0 L341.4 416.8 L341.9 418.7 L342.4 420.6 L342.9 422.6 L343.4 424.6 L343.9 426.7 L344.4 428.9 L344.9 431.1 L345.4 433.4 L345.9 435.8 L346.5 438.2 L347.0 440.7 L347.6 443.2 L348.1 445.8 L348.7 448.5 L349.2 451.3 L349.8 454.2 L350.4 457.1 L351.0 460.1 L351.6 463.2 L352.2 466.4 L352.8 469.7 L353.4 473.1 L354.0 476.5 L354.7 480.1 L355.3 483.8 L356.0 487.6 L356.6 491.4 L357.3 495.4 L358.0 499.5 L358.7 503.7 L359.4 508.1 L360.1 512.5 L360.9 517.1 L361.6 521.8 L362.4 526.7 L363.1 531.7 L363.6 534.6" fill="none" stroke="#3F6DAE" stroke-width="3" stroke-linejoin="round"/>
<path d="M89.0 301.3 L89.8 301.3 L90.4 301.3 L91.1 301.3 L91.7 301.3 L92.3 301.3 L93.0 301.4 L93.6 301.4 L94.2 301.4 L94.8 301.4 L95.5 301.4 L96.1 301.4 L96.7 301.4 L97.4 301.4 L98.0 301.4 L98.6 301.4 L99.2 301.4 L99.9 301.4 L100.5 301.4 L101.1 301.4 L101.7 301.4 L102.4 301.4 L103.0 301.4 L103.6 301.5 L104.3 301.5 L104.9 301.5 L105.5 301.5 L106.1 301.5 L106.8 301.5 L107.4 301.5 L108.0 301.5 L108.7 301.5 L109.3 301.5 L109.9 301.5 L110.5 301.5 L111.2 301.5 L111.8 301.5 L112.4 301.5 L113.0 301.5 L113.7 301.5 L114.3 301.6 L114.9 301.6 L115.6 301.6 L116.2 301.6 L116.8 301.6 L117.4 301.6 L118.1 301.6 L118.7 301.6 L119.3 301.6 L120.0 301.6 L120.6 301.6 L121.2 301.6 L121.8 301.6 L122.5 301.6 L123.1 301.6 L123.7 301.6 L124.3 301.7 L125.0 301.7 L125.6 301.7 L126.2 301.7 L126.9 301.7 L127.5 301.7 L128.1 301.7 L128.7 301.7 L129.4 301.7 L130.0 301.7 L130.6 301.7 L131.3 301.7 L131.9 301.7 L132.5 301.7 L133.1 301.7 L133.8 301.7 L134.4 301.7 L135.0 301.8 L135.6 301.8 L136.3 301.8 L136.9 301.8 L137.5 301.8 L138.2 301.8 L138.8 301.8 L139.4 301.8 L140.0 301.8 L140.7 301.8 L141.3 301.8 L141.9 301.8 L142.5 301.8 L143.2 301.8 L143.8 301.8 L144.4 301.8 L145.1 301.8 L145.7 301.9 L146.3 301.9 L146.9 301.9 L147.6 301.9 L148.2 301.9 L148.8 301.9 L149.5 301.9 L150.1 301.9 L150.7 301.9 L151.3 301.9 L152.0 301.9 L152.6 301.9 L153.2 301.9 L153.8 301.9 L154.5 301.9 L155.1 301.9 L155.7 301.9 L156.4 302.0 L157.0 302.0 L157.6 302.0 L158.2 302.0 L158.9 302.0 L159.5 302.0 L160.1 302.0 L160.8 302.0 L161.4 302.0 L162.0 302.0 L162.6 302.0 L163.3 302.0 L163.9 302.0 L164.5 302.0 L165.1 302.0 L165.8 302.0 L166.4 302.1 L167.0 302.1 L167.7 302.1 L168.3 302.1 L168.9 302.1 L169.5 302.1 L170.2 302.1 L170.8 302.1 L171.4 302.1 L172.1 302.1 L172.7 302.1 L173.3 302.1 L173.9 302.1 L174.6 302.1 L175.2 302.1 L175.8 302.1 L176.4 302.1 L177.1 302.2 L177.7 302.2 L178.3 302.2 L179.0 302.2 L179.6 302.2 L180.2 302.2 L180.8 302.2 L181.5 302.2 L182.1 302.2 L182.7 302.2 L183.3 302.2 L184.0 302.2 L184.6 302.2 L185.2 302.2 L185.9 302.2 L186.5 302.2 L187.1 302.2 L187.7 302.3 L188.4 302.3 L189.0 302.3 L189.6 302.3 L190.3 302.3 L190.9 302.3 L191.5 302.3 L192.1 302.3 L192.8 302.3 L193.4 302.3 L194.0 302.3 L194.6 302.3 L195.3 302.3 L195.9 302.3 L196.5 302.3 L197.2 302.3 L197.8 302.3 L198.4 302.4 L199.0 302.4 L199.7 302.4 L200.3 302.4 L200.9 302.4 L201.6 302.4 L202.2 302.4 L202.8 302.4 L203.4 302.4 L204.1 302.4 L204.7 302.4 L205.3 302.4 L205.9 302.4 L206.6 302.4 L207.2 302.4 L207.8 302.4 L208.5 302.5 L209.1 302.5 L209.7 302.5 L210.3 302.5 L211.0 302.5 L211.6 302.5 L212.2 302.5 L212.9 302.5 L213.5 302.5 L214.1 302.5 L214.7 302.5 L215.4 302.5 L216.0 302.5 L216.6 302.5 L217.2 302.5 L217.9 302.5 L218.5 302.5 L219.1 302.6 L219.8 302.6 L220.4 302.6 L221.0 302.6 L221.6 302.6 L222.3 302.6 L222.9 302.6 L223.5 302.6 L224.1 302.6 L224.8 302.6 L225.4 302.6 L226.0 302.6 L226.7 302.6 L227.3 302.6 L227.9 302.6 L228.5 302.6 L229.2 302.7 L229.8 302.7 L230.4 302.7 L231.1 302.7 L231.7 302.7 L232.3 302.7 L232.9 302.7 L233.6 302.7 L234.2 302.7 L234.8 302.7 L235.4 302.7 L236.1 302.7 L236.7 302.7 L237.3 302.7 L238.0 302.7 L238.6 302.8 L239.2 302.8 L239.8 302.8 L240.5 302.8 L241.1 302.8 L241.7 302.8 L242.4 302.8 L243.0 302.8 L243.6 302.8 L244.2 302.8 L244.9 302.8 L245.5 302.8 L246.1 302.8 L246.7 302.8 L247.4 302.9 L248.0 302.9 L248.6 302.9 L249.3 302.9 L249.9 302.9 L250.5 302.9 L251.1 302.9 L251.8 302.9 L252.4 302.9 L253.0 302.9 L253.7 302.9 L254.3 303.0 L254.9 303.0 L255.5 303.0 L256.2 303.0 L256.8 303.0 L257.4 303.0 L258.1 303.0 L258.7 303.0 L259.3 303.0 L259.9 303.0 L260.6 303.1 L261.2 303.1 L261.8 303.1 L262.5 303.1 L263.1 303.1 L263.7 303.1 L264.3 303.1 L265.0 303.2 L265.6 303.2 L266.2 303.2 L266.9 303.2 L267.5 303.2 L268.1 303.2 L268.7 303.3 L269.4 303.3 L270.0 303.3 L270.6 303.3 L271.3 303.3 L271.9 303.4 L272.5 303.4 L273.1 303.4 L273.8 303.4 L274.4 303.5 L275.0 303.5 L275.7 303.5 L276.3 303.6 L276.9 303.6 L277.6 303.6 L278.2 303.7 L278.8 303.7 L279.4 303.7 L280.1 303.8 L280.7 303.8 L281.3 303.9 L282.0 303.9 L282.6 304.0 L283.2 304.0 L283.9 304.1 L284.5 304.1 L285.1 304.2 L285.8 304.3 L286.4 304.3 L287.0 304.4 L287.7 304.5 L288.3 304.6 L288.9 304.7 L289.6 304.8 L290.2 304.8 L290.8 304.9 L291.5 305.1 L292.1 305.2 L292.8 305.3 L293.4 305.4 L294.0 305.5 L294.7 305.7 L295.3 305.8 L296.0 306.0 L296.6 306.1 L297.2 306.3 L297.9 306.5 L298.5 306.7 L299.2 306.9 L299.8 307.1 L300.5 307.3 L301.1 307.6 L301.8 307.8 L302.4 308.1 L303.1 308.4 L303.7 308.6 L304.4 309.0 L305.0 309.3 L305.7 309.6 L306.4 310.0 L307.0 310.4 L307.7 310.8 L308.4 311.3 L309.0 311.7 L309.7 312.2 L310.4 312.7 L311.0 313.3 L311.7 313.8 L312.4 314.5 L313.1 315.1 L313.8 315.8 L314.5 316.5 L315.2 317.3 L315.9 318.1 L316.6 318.9 L317.3 319.8 L318.0 320.8 L318.7 321.8 L319.5 322.9 L320.2 324.0 L320.9 325.2 L321.3 325.8 L321.7 326.5 L322.0 327.1 L322.4 327.8 L322.8 328.5 L323.2 329.2 L323.6 330.0 L323.9 330.7 L324.3 331.5 L324.7 332.3 L325.1 333.1 L325.5 334.0 L325.9 334.9 L326.3 335.8 L326.7 336.7 L327.1 337.6 L327.5 338.6 L327.9 339.6 L328.3 340.6 L328.7 341.7 L329.1 342.8 L329.5 343.9 L330.0 345.1 L330.4 346.3 L330.8 347.5 L331.2 348.8 L331.7 350.1 L332.1 351.4 L332.6 352.8 L333.0 354.2 L333.4 355.6 L333.9 357.1 L334.3 358.6 L334.8 360.2 L335.3 361.8 L335.7 363.5 L336.2 365.2 L336.7 367.0 L337.2 368.8 L337.6 370.7 L338.1 372.6 L338.6 374.6 L339.1 376.6 L339.6 378.7 L340.2 380.9 L340.7 383.1 L341.2 385.3 L341.7 387.7 L342.3 390.1 L342.8 392.6 L343.3 395.1 L343.9 397.7 L344.5 400.4 L345.0 403.2 L345.6 406.0 L346.2 409.0 L346.8 412.0 L347.4 415.1 L348.0 418.3 L348.6 421.6 L349.2 424.9 L349.9 428.4 L350.5 432.0 L351.1 435.7 L351.8 439.4 L352.5 443.3 L353.2 447.3 L353.9 451.4 L354.6 455.7 L355.3 460.0 L356.0 464.5 L356.7 469.1 L357.5 473.8 L358.2 478.7 L359.0 483.7 L359.8 488.9 L360.6 494.2 L361.4 499.6 L362.2 505.2 L363.1 511.0 L363.9 516.9 L364.8 523.0 L365.7 529.3 L366.5 534.6" fill="none" stroke="#A83A3F" stroke-width="3" stroke-linejoin="round"/>
<path d="M89.0 534.6 L89.7 534.5 L90.6 534.3 L91.5 534.1 L92.3 533.9 L93.2 533.8 L94.1 533.6 L95.0 533.4 L95.9 533.2 L96.7 533.1 L97.6 532.9 L98.5 532.7 L99.4 532.5 L100.2 532.3 L101.1 532.2 L102.0 532.0 L102.9 531.8 L103.8 531.6 L104.6 531.5 L105.5 531.3 L106.4 531.1 L107.3 530.9 L108.2 530.8 L109.0 530.6 L109.9 530.4 L110.8 530.2 L111.7 530.1 L112.5 529.9 L113.4 529.7 L114.3 529.5 L115.2 529.4 L116.1 529.2 L116.9 529.0 L117.8 528.8 L118.7 528.7 L119.6 528.5 L120.4 528.3 L121.3 528.2 L122.2 528.0 L123.1 527.8 L124.0 527.6 L124.8 527.5 L125.7 527.3 L126.6 527.1 L127.5 526.9 L128.4 526.8 L129.2 526.6 L130.1 526.4 L131.0 526.2 L131.9 526.1 L132.7 525.9 L133.6 525.7 L134.5 525.5 L135.4 525.4 L136.3 525.2 L137.1 525.0 L138.0 524.9 L138.9 524.7 L139.8 524.5 L140.7 524.3 L141.5 524.2 L142.4 524.0 L143.3 523.8 L144.2 523.6 L145.0 523.5 L145.9 523.3 L146.8 523.1 L147.7 523.0 L148.6 522.8 L149.4 522.6 L150.3 522.4 L151.2 522.3 L152.1 522.1 L153.0 521.9 L153.8 521.8 L154.7 521.6 L155.6 521.4 L156.5 521.2 L157.3 521.1 L158.2 520.9 L159.1 520.7 L160.0 520.6 L160.9 520.4 L161.7 520.2 L162.6 520.0 L163.5 519.9 L164.4 519.7 L165.3 519.5 L166.1 519.4 L167.0 519.2 L167.9 519.0 L168.8 518.8 L169.6 518.7 L170.5 518.5 L171.4 518.3 L172.3 518.2 L173.2 518.0 L174.0 517.8 L174.9 517.7 L175.8 517.5 L176.7 517.3 L177.6 517.1 L178.4 517.0 L179.3 516.8 L180.2 516.6 L181.1 516.5 L181.9 516.3 L182.8 516.1 L183.7 516.0 L184.6 515.8 L185.5 515.6 L186.3 515.4 L187.2 515.3 L188.1 515.1 L189.0 514.9 L189.9 514.8 L190.7 514.6 L191.6 514.4 L192.5 514.3 L193.4 514.1 L194.2 513.9 L195.1 513.8 L196.0 513.6 L196.9 513.4 L197.8 513.3 L198.6 513.1 L199.5 512.9 L200.4 512.7 L201.3 512.6 L202.2 512.4 L203.0 512.2 L203.9 512.1 L204.8 511.9 L205.7 511.7 L206.5 511.6 L207.4 511.4 L208.3 511.2 L209.2 511.1 L210.1 510.9 L210.9 510.7 L211.8 510.6 L212.7 510.4 L213.6 510.2 L214.5 510.1 L215.3 509.9 L216.2 509.7 L217.1 509.6 L218.0 509.4 L218.8 509.2 L219.7 509.1 L220.6 508.9 L221.5 508.7 L222.4 508.6 L223.2 508.4 L224.1 508.2 L225.0 508.1 L225.9 507.9 L226.8 507.7 L227.6 507.6 L228.5 507.4 L229.4 507.2 L230.3 507.1 L231.1 506.9 L232.0 506.7 L232.9 506.6 L233.8 506.4 L234.7 506.2 L235.5 506.1 L236.4 505.9 L237.3 505.7 L238.2 505.6 L239.1 505.4 L239.9 505.2 L240.8 505.1 L241.7 504.9 L242.6 504.7 L243.4 504.6 L244.3 504.4 L245.2 504.2 L246.1 504.1 L247.0 503.9 L247.8 503.8 L248.7 503.6 L249.6 503.4 L250.5 503.3 L251.4 503.1 L252.2 502.9 L253.1 502.8 L254.0 502.6 L254.9 502.4 L255.7 502.3 L256.6 502.1 L257.5 502.0 L258.4 501.8 L259.3 501.6 L260.1 501.5 L261.0 501.3 L261.9 501.1 L262.8 501.0 L263.7 500.8 L264.5 500.7 L265.4 500.5 L266.3 500.3 L267.2 500.2 L268.0 500.0 L268.9 499.9 L269.8 499.7 L270.7 499.5 L271.6 499.4 L272.4 499.2 L273.3 499.1 L274.2 498.9 L275.1 498.7 L276.0 498.6 L276.8 498.4 L277.7 498.3 L278.6 498.1 L279.5 498.0 L280.4 497.8 L281.2 497.7 L282.1 497.5 L283.0 497.4 L283.9 497.2 L284.8 497.1 L285.6 496.9 L286.5 496.8 L287.4 496.6 L288.3 496.5 L289.2 496.4 L290.0 496.2 L290.9 496.1 L291.8 496.0 L292.7 495.8 L293.6 495.7 L294.5 495.6 L295.3 495.5 L296.2 495.3 L297.1 495.2 L298.0 495.1 L298.9 495.0 L299.8 494.9 L300.6 494.8 L301.5 494.8 L302.4 494.7 L303.3 494.6 L304.2 494.5 L305.1 494.5 L306.0 494.4 L306.9 494.4 L307.7 494.4 L308.6 494.4 L309.5 494.4 L310.4 494.4 L311.3 494.4 L312.2 494.4 L313.1 494.5 L313.7 494.5 L314.3 494.6 L314.9 494.7 L315.5 494.8 L316.1 494.8 L316.7 495.0 L317.3 495.1 L317.9 495.2 L318.6 495.3 L319.2 495.5 L319.8 495.7 L320.4 495.8 L321.0 496.0 L321.6 496.3 L322.2 496.5 L322.8 496.7 L323.5 497.0 L324.1 497.3 L324.7 497.6 L325.3 498.0 L326.0 498.4 L326.6 498.8 L327.2 499.2 L327.9 499.6 L328.5 500.1 L329.1 500.7 L329.8 501.2 L330.4 501.8 L331.1 502.5 L331.7 503.1 L332.4 503.9 L333.0 504.6 L333.7 505.5 L334.4 506.3 L335.0 507.3 L335.7 508.3 L336.4 509.3 L337.1 510.4 L337.8 511.6 L338.1 512.3 L338.5 512.9 L338.8 513.6 L339.2 514.2 L339.5 514.9 L339.9 515.7 L340.3 516.4 L340.6 517.2 L341.0 518.0 L341.3 518.8 L341.7 519.6 L342.1 520.5 L342.4 521.4 L342.8 522.3 L343.2 523.3 L343.6 524.2 L343.9 525.3 L344.3 526.3 L344.7 527.4 L345.1 528.5 L345.5 529.6 L345.9 530.8 L346.3 532.0 L346.7 533.2 L347.1 534.5 L347.1 534.6" fill="none" stroke="#9DBD5C" stroke-width="1.5" stroke-linejoin="round"/>
<path d="M89.0 534.6 L89.8 534.3 L90.4 534.0 L91.0 533.8 L91.6 533.6 L92.2 533.3 L92.8 533.1 L93.4 532.8 L94.0 532.6 L94.6 532.3 L95.2 532.1 L95.8 531.9 L96.4 531.6 L97.0 531.4 L97.6 531.1 L98.3 530.9 L98.9 530.6 L99.5 530.4 L100.1 530.2 L100.7 529.9 L101.3 529.7 L101.9 529.4 L102.5 529.2 L103.1 529.0 L103.7 528.7 L104.3 528.5 L104.9 528.2 L105.5 528.0 L106.1 527.7 L106.7 527.5 L107.3 527.3 L107.9 527.0 L108.5 526.8 L109.1 526.5 L109.7 526.3 L110.3 526.1 L110.9 525.8 L111.5 525.6 L112.1 525.3 L112.7 525.1 L113.3 524.9 L113.9 524.6 L114.5 524.4 L115.2 524.1 L115.8 523.9 L116.4 523.6 L117.0 523.4 L117.6 523.2 L118.2 522.9 L118.8 522.7 L119.4 522.4 L120.0 522.2 L120.6 522.0 L121.2 521.7 L121.8 521.5 L122.4 521.2 L123.0 521.0 L123.6 520.8 L124.2 520.5 L124.8 520.3 L125.4 520.0 L126.0 519.8 L126.6 519.6 L127.2 519.3 L127.8 519.1 L128.4 518.8 L129.0 518.6 L129.6 518.4 L130.2 518.1 L130.8 517.9 L131.4 517.6 L132.1 517.4 L132.7 517.2 L133.3 516.9 L133.9 516.7 L134.5 516.4 L135.1 516.2 L135.7 516.0 L136.3 515.7 L136.9 515.5 L137.5 515.2 L138.1 515.0 L138.7 514.8 L139.3 514.5 L139.9 514.3 L140.5 514.0 L141.1 513.8 L141.7 513.6 L142.3 513.3 L142.9 513.1 L143.5 512.8 L144.1 512.6 L144.7 512.4 L145.3 512.1 L145.9 511.9 L146.5 511.6 L147.1 511.4 L147.7 511.2 L148.3 510.9 L149.0 510.7 L149.6 510.4 L150.2 510.2 L150.8 510.0 L151.4 509.7 L152.0 509.5 L152.6 509.2 L153.2 509.0 L153.8 508.8 L154.4 508.5 L155.0 508.3 L155.6 508.0 L156.2 507.8 L156.8 507.6 L157.4 507.3 L158.0 507.1 L158.6 506.9 L159.2 506.6 L159.8 506.4 L160.4 506.1 L161.0 505.9 L161.6 505.7 L162.2 505.4 L162.8 505.2 L163.4 504.9 L164.0 504.7 L164.6 504.5 L165.2 504.2 L165.9 504.0 L166.5 503.7 L167.1 503.5 L167.7 503.3 L168.3 503.0 L168.9 502.8 L169.5 502.6 L170.1 502.3 L170.7 502.1 L171.3 501.8 L171.9 501.6 L172.5 501.4 L173.1 501.1 L173.7 500.9 L174.3 500.7 L174.9 500.4 L175.5 500.2 L176.1 499.9 L176.7 499.7 L177.3 499.5 L177.9 499.2 L178.5 499.0 L179.1 498.7 L179.7 498.5 L180.3 498.3 L180.9 498.0 L181.5 497.8 L182.1 497.6 L182.8 497.3 L183.4 497.1 L184.0 496.8 L184.6 496.6 L185.2 496.4 L185.8 496.1 L186.4 495.9 L187.0 495.7 L187.6 495.4 L188.2 495.2 L188.8 494.9 L189.4 494.7 L190.0 494.5 L190.6 494.2 L191.2 494.0 L191.8 493.8 L192.4 493.5 L193.0 493.3 L193.6 493.0 L194.2 492.8 L194.8 492.6 L195.4 492.3 L196.0 492.1 L196.6 491.9 L197.2 491.6 L197.8 491.4 L198.4 491.1 L199.0 490.9 L199.7 490.7 L200.3 490.4 L200.9 490.2 L201.5 490.0 L202.1 489.7 L202.7 489.5 L203.3 489.3 L203.9 489.0 L204.5 488.8 L205.1 488.5 L205.7 488.3 L206.3 488.1 L206.9 487.8 L207.5 487.6 L208.1 487.4 L208.7 487.1 L209.3 486.9 L209.9 486.7 L210.5 486.4 L211.1 486.2 L211.7 485.9 L212.3 485.7 L212.9 485.5 L213.5 485.2 L214.1 485.0 L214.7 484.8 L215.3 484.5 L215.9 484.3 L216.6 484.1 L217.2 483.8 L217.8 483.6 L218.4 483.3 L219.0 483.1 L219.6 482.9 L220.2 482.6 L220.8 482.4 L221.4 482.2 L222.0 481.9 L222.6 481.7 L223.2 481.5 L223.8 481.2 L224.4 481.0 L225.0 480.8 L225.6 480.5 L226.2 480.3 L226.8 480.0 L227.4 479.8 L228.0 479.6 L228.6 479.3 L229.2 479.1 L229.8 478.9 L230.4 478.6 L231.0 478.4 L231.6 478.2 L232.2 477.9 L232.8 477.7 L233.5 477.5 L234.1 477.2 L234.7 477.0 L235.3 476.8 L235.9 476.5 L236.5 476.3 L237.1 476.1 L237.7 475.8 L238.3 475.6 L238.9 475.3 L239.5 475.1 L240.1 474.9 L240.7 474.6 L241.3 474.4 L241.9 474.2 L242.5 473.9 L243.1 473.7 L243.7 473.5 L244.3 473.2 L244.9 473.0 L245.5 472.8 L246.1 472.5 L246.7 472.3 L247.3 472.1 L247.9 471.8 L248.5 471.6 L249.1 471.4 L249.8 471.1 L250.4 470.9 L251.0 470.7 L251.6 470.4 L252.2 470.2 L252.8 470.0 L253.4 469.7 L254.0 469.5 L254.6 469.3 L255.2 469.0 L255.8 468.8 L256.4 468.6 L257.0 468.3 L257.6 468.1 L258.2 467.9 L258.8 467.6 L259.4 467.4 L260.0 467.2 L260.6 466.9 L261.2 466.7 L261.8 466.5 L262.4 466.2 L263.0 466.0 L263.6 465.8 L264.2 465.5 L264.8 465.3 L265.4 465.1 L266.1 464.8 L266.7 464.6 L267.3 464.4 L267.9 464.2 L268.5 463.9 L269.1 463.7 L269.7 463.5 L270.3 463.2 L270.9 463.0 L271.5 462.8 L272.1 462.6 L272.7 462.3 L273.3 462.1 L273.9 461.9 L274.5 461.6 L275.1 461.4 L275.7 461.2 L276.3 461.0 L276.9 460.7 L277.5 460.5 L278.1 460.3 L278.7 460.1 L279.3 459.8 L279.9 459.6 L280.6 459.4 L281.2 459.2 L281.8 458.9 L282.4 458.7 L283.0 458.5 L283.6 458.3 L284.2 458.1 L284.8 457.8 L285.4 457.6 L286.0 457.4 L286.6 457.2 L287.2 457.0 L287.8 456.8 L288.4 456.6 L289.0 456.4 L289.6 456.1 L290.2 455.9 L290.8 455.7 L291.5 455.5 L292.1 455.3 L292.7 455.1 L293.3 454.9 L293.9 454.7 L294.5 454.5 L295.1 454.3 L295.7 454.2 L296.3 454.0 L296.9 453.8 L297.5 453.6 L298.1 453.4 L298.7 453.2 L299.4 453.1 L300.0 452.9 L300.6 452.7 L301.2 452.6 L301.8 452.4 L302.4 452.3 L303.0 452.1 L303.6 452.0 L304.2 451.8 L304.9 451.7 L305.5 451.6 L306.1 451.5 L306.7 451.3 L307.3 451.2 L307.9 451.1 L308.6 451.1 L309.2 451.0 L309.8 450.9 L310.4 450.8 L311.0 450.8 L311.6 450.7 L312.3 450.7 L312.9 450.7 L313.5 450.7 L314.1 450.7 L314.8 450.7 L315.4 450.7 L316.0 450.8 L316.7 450.8 L317.3 450.9 L317.9 451.0 L318.6 451.1 L319.2 451.3 L319.8 451.4 L320.5 451.6 L321.1 451.8 L321.8 452.0 L322.4 452.3 L323.1 452.6 L323.7 452.9 L324.4 453.3 L325.0 453.7 L325.7 454.1 L326.4 454.5 L327.0 455.1 L327.7 455.6 L328.4 456.2 L329.1 456.8 L329.7 457.5 L330.4 458.3 L331.1 459.1 L331.8 459.9 L332.5 460.9 L333.2 461.9 L333.9 463.0 L334.7 464.1 L335.0 464.7 L335.4 465.3 L335.8 466.0 L336.1 466.7 L336.5 467.4 L336.9 468.1 L337.2 468.8 L337.6 469.6 L338.0 470.4 L338.4 471.2 L338.8 472.0 L339.1 472.9 L339.5 473.8 L339.9 474.8 L340.3 475.7 L340.7 476.7 L341.1 477.8 L341.5 478.8 L341.9 479.9 L342.3 481.1 L342.7 482.2 L343.1 483.4 L343.5 484.7 L343.9 486.0 L344.4 487.3 L344.8 488.7 L345.2 490.1 L345.6 491.6 L346.1 493.1 L346.5 494.6 L347.0 496.2 L347.4 497.9 L347.8 499.6 L348.3 501.4 L348.8 503.2 L349.2 505.1 L349.7 507.0 L350.1 509.0 L350.6 511.1 L351.1 513.2 L351.6 515.4 L352.1 517.7 L352.6 520.0 L353.1 522.4 L353.6 524.9 L354.1 527.5 L354.6 530.1 L355.1 532.9 L355.4 534.6" fill="none" stroke="#8465AE" stroke-width="1.5" stroke-linejoin="round"/>
<path d="M89.0 534.6 L89.7 534.2 L90.4 533.8 L91.0 533.4 L91.6 533.1 L92.2 532.7 L92.8 532.3 L93.4 532.0 L94.0 531.6 L94.7 531.2 L95.3 530.8 L95.9 530.5 L96.5 530.1 L97.1 529.7 L97.7 529.4 L98.3 529.0 L98.9 528.6 L99.6 528.3 L100.2 527.9 L100.8 527.5 L101.4 527.2 L102.0 526.8 L102.6 526.4 L103.2 526.1 L103.9 525.7 L104.5 525.3 L105.1 525.0 L105.7 524.6 L106.3 524.2 L106.9 523.9 L107.5 523.5 L108.2 523.1 L108.8 522.8 L109.4 522.4 L110.0 522.0 L110.6 521.7 L111.2 521.3 L111.8 520.9 L112.4 520.6 L113.1 520.2 L113.7 519.9 L114.3 519.5 L114.9 519.1 L115.5 518.8 L116.1 518.4 L116.7 518.0 L117.4 517.7 L118.0 517.3 L118.6 516.9 L119.2 516.6 L119.8 516.2 L120.4 515.8 L121.0 515.5 L121.7 515.1 L122.3 514.7 L122.9 514.4 L123.5 514.0 L124.1 513.6 L124.7 513.3 L125.3 512.9 L125.9 512.5 L126.6 512.2 L127.2 511.8 L127.8 511.4 L128.4 511.1 L129.0 510.7 L129.6 510.3 L130.2 510.0 L130.9 509.6 L131.5 509.2 L132.1 508.9 L132.7 508.5 L133.3 508.1 L133.9 507.8 L134.5 507.4 L135.2 507.1 L135.8 506.7 L136.4 506.3 L137.0 506.0 L137.6 505.6 L138.2 505.2 L138.8 504.9 L139.5 504.5 L140.1 504.1 L140.7 503.8 L141.3 503.4 L141.9 503.0 L142.5 502.7 L143.1 502.3 L143.7 501.9 L144.4 501.6 L145.0 501.2 L145.6 500.9 L146.2 500.5 L146.8 500.1 L147.4 499.8 L148.0 499.4 L148.7 499.0 L149.3 498.7 L149.9 498.3 L150.5 497.9 L151.1 497.6 L151.7 497.2 L152.3 496.8 L153.0 496.5 L153.6 496.1 L154.2 495.8 L154.8 495.4 L155.4 495.0 L156.0 494.7 L156.6 494.3 L157.2 493.9 L157.9 493.6 L158.5 493.2 L159.1 492.8 L159.7 492.5 L160.3 492.1 L160.9 491.7 L161.5 491.4 L162.2 491.0 L162.8 490.7 L163.4 490.3 L164.0 489.9 L164.6 489.6 L165.2 489.2 L165.8 488.8 L166.5 488.5 L167.1 488.1 L167.7 487.7 L168.3 487.4 L168.9 487.0 L169.5 486.7 L170.1 486.3 L170.7 485.9 L171.4 485.6 L172.0 485.2 L172.6 484.8 L173.2 484.5 L173.8 484.1 L174.4 483.8 L175.0 483.4 L175.7 483.0 L176.3 482.7 L176.9 482.3 L177.5 481.9 L178.1 481.6 L178.7 481.2 L179.3 480.8 L180.0 480.5 L180.6 480.1 L181.2 479.8 L181.8 479.4 L182.4 479.0 L183.0 478.7 L183.6 478.3 L184.2 477.9 L184.9 477.6 L185.5 477.2 L186.1 476.9 L186.7 476.5 L187.3 476.1 L187.9 475.8 L188.5 475.4 L189.2 475.0 L189.8 474.7 L190.4 474.3 L191.0 474.0 L191.6 473.6 L192.2 473.2 L192.8 472.9 L193.5 472.5 L194.1 472.1 L194.7 471.8 L195.3 471.4 L195.9 471.1 L196.5 470.7 L197.1 470.3 L197.7 470.0 L198.4 469.6 L199.0 469.3 L199.6 468.9 L200.2 468.5 L200.8 468.2 L201.4 467.8 L202.0 467.4 L202.7 467.1 L203.3 466.7 L203.9 466.4 L204.5 466.0 L205.1 465.6 L205.7 465.3 L206.3 464.9 L207.0 464.5 L207.6 464.2 L208.2 463.8 L208.8 463.5 L209.4 463.1 L210.0 462.7 L210.6 462.4 L211.2 462.0 L211.9 461.7 L212.5 461.3 L213.1 460.9 L213.7 460.6 L214.3 460.2 L214.9 459.9 L215.5 459.5 L216.2 459.1 L216.8 458.8 L217.4 458.4 L218.0 458.0 L218.6 457.7 L219.2 457.3 L219.8 457.0 L220.5 456.6 L221.1 456.2 L221.7 455.9 L222.3 455.5 L222.9 455.2 L223.5 454.8 L224.1 454.4 L224.7 454.1 L225.4 453.7 L226.0 453.4 L226.6 453.0 L227.2 452.6 L227.8 452.3 L228.4 451.9 L229.0 451.6 L229.7 451.2 L230.3 450.8 L230.9 450.5 L231.5 450.1 L232.1 449.8 L232.7 449.4 L233.3 449.0 L234.0 448.7 L234.6 448.3 L235.2 448.0 L235.8 447.6 L236.4 447.2 L237.0 446.9 L237.6 446.5 L238.3 446.2 L238.9 445.8 L239.5 445.4 L240.1 445.1 L240.7 444.7 L241.3 444.4 L241.9 444.0 L242.5 443.6 L243.2 443.3 L243.8 442.9 L244.4 442.6 L245.0 442.2 L245.6 441.8 L246.2 441.5 L246.8 441.1 L247.5 440.8 L248.1 440.4 L248.7 440.1 L249.3 439.7 L249.9 439.3 L250.5 439.0 L251.1 438.6 L251.8 438.3 L252.4 437.9 L253.0 437.5 L253.6 437.2 L254.2 436.8 L254.8 436.5 L255.4 436.1 L256.0 435.8 L256.7 435.4 L257.3 435.0 L257.9 434.7 L258.5 434.3 L259.1 434.0 L259.7 433.6 L260.3 433.3 L261.0 432.9 L261.6 432.5 L262.2 432.2 L262.8 431.8 L263.4 431.5 L264.0 431.1 L264.6 430.8 L265.3 430.4 L265.9 430.1 L266.5 429.7 L267.1 429.3 L267.7 429.0 L268.3 428.6 L268.9 428.3 L269.6 427.9 L270.2 427.6 L270.8 427.2 L271.4 426.9 L272.0 426.5 L272.6 426.2 L273.2 425.8 L273.9 425.5 L274.5 425.1 L275.1 424.8 L275.7 424.4 L276.3 424.1 L276.9 423.7 L277.5 423.4 L278.2 423.0 L278.8 422.7 L279.4 422.3 L280.0 422.0 L280.6 421.7 L281.2 421.3 L281.9 421.0 L282.5 420.6 L283.1 420.3 L283.7 420.0 L284.3 419.6 L284.9 419.3 L285.5 418.9 L286.2 418.6 L286.8 418.3 L287.4 418.0 L288.0 417.6 L288.6 417.3 L289.2 417.0 L289.9 416.7 L290.5 416.3 L291.1 416.0 L291.7 415.7 L292.3 415.4 L293.0 415.1 L293.6 414.8 L294.2 414.5 L294.8 414.2 L295.4 413.9 L296.1 413.6 L296.7 413.3 L297.3 413.0 L297.9 412.7 L298.5 412.4 L299.2 412.2 L299.8 411.9 L300.4 411.6 L301.0 411.4 L301.7 411.1 L302.3 410.9 L302.9 410.6 L303.5 410.4 L304.2 410.2 L304.8 410.0 L305.4 409.8 L306.0 409.6 L306.7 409.4 L307.3 409.2 L307.9 409.0 L308.6 408.9 L309.2 408.7 L309.8 408.6 L310.5 408.5 L311.1 408.4 L311.8 408.3 L312.4 408.2 L313.0 408.2 L313.7 408.1 L314.3 408.1 L315.0 408.1 L315.6 408.1 L316.3 408.2 L316.9 408.3 L317.6 408.4 L318.2 408.5 L318.9 408.6 L319.6 408.8 L320.2 409.0 L320.9 409.3 L321.6 409.6 L322.3 409.9 L322.9 410.3 L323.6 410.7 L324.3 411.1 L325.0 411.6 L325.7 412.2 L326.4 412.8 L327.1 413.5 L327.8 414.2 L328.5 415.0 L329.2 415.9 L330.0 416.8 L330.7 417.8 L331.5 418.9 L332.2 420.1 L332.6 420.8 L333.0 421.4 L333.3 422.1 L333.7 422.8 L334.1 423.5 L334.5 424.3 L334.9 425.1 L335.3 425.9 L335.7 426.7 L336.1 427.6 L336.5 428.5 L336.9 429.4 L337.3 430.4 L337.7 431.4 L338.1 432.5 L338.5 433.5 L338.9 434.7 L339.3 435.8 L339.8 437.0 L340.2 438.3 L340.6 439.5 L341.0 440.9 L341.5 442.2 L341.9 443.7 L342.4 445.1 L342.8 446.6 L343.3 448.2 L343.7 449.8 L344.2 451.5 L344.6 453.2 L345.1 455.0 L345.6 456.9 L346.1 458.8 L346.5 460.8 L347.0 462.8 L347.5 464.9 L348.0 467.1 L348.5 469.3 L349.0 471.7 L349.5 474.1 L350.1 476.5 L350.6 479.1 L351.1 481.7 L351.6 484.5 L352.2 487.3 L352.7 490.2 L353.3 493.2 L353.9 496.3 L354.4 499.6 L355.0 502.9 L355.6 506.3 L356.2 509.8 L356.8 513.5 L357.4 517.3 L358.0 521.2 L358.6 525.2 L359.3 529.4 L359.9 533.7 L360.1 534.6" fill="none" stroke="#41AECB" stroke-width="1.5" stroke-linejoin="round"/>
<path d="M89.0 534.6 L89.9 533.9 L90.5 533.4 L91.1 532.9 L91.7 532.4 L92.4 531.9 L93.0 531.4 L93.6 530.9 L94.2 530.4 L94.8 529.9 L95.5 529.4 L96.1 528.9 L96.7 528.4 L97.3 527.9 L98.0 527.4 L98.6 526.9 L99.2 526.4 L99.8 525.9 L100.4 525.4 L101.1 524.9 L101.7 524.4 L102.3 523.9 L102.9 523.4 L103.5 522.9 L104.2 522.4 L104.8 521.9 L105.4 521.4 L106.0 520.9 L106.7 520.4 L107.3 519.9 L107.9 519.4 L108.5 518.9 L109.1 518.4 L109.8 517.9 L110.4 517.4 L111.0 516.9 L111.6 516.4 L112.2 515.9 L112.9 515.4 L113.5 514.9 L114.1 514.4 L114.7 513.9 L115.3 513.4 L116.0 512.9 L116.6 512.4 L117.2 511.9 L117.8 511.4 L118.5 510.9 L119.1 510.4 L119.7 509.9 L120.3 509.4 L120.9 508.9 L121.6 508.4 L122.2 507.9 L122.8 507.4 L123.4 506.9 L124.0 506.4 L124.7 505.9 L125.3 505.4 L125.9 504.9 L126.5 504.5 L127.2 504.0 L127.8 503.5 L128.4 503.0 L129.0 502.5 L129.6 502.0 L130.3 501.5 L130.9 501.0 L131.5 500.5 L132.1 500.0 L132.7 499.5 L133.4 499.0 L134.0 498.5 L134.6 498.0 L135.2 497.5 L135.9 497.0 L136.5 496.5 L137.1 496.0 L137.7 495.5 L138.3 495.0 L139.0 494.5 L139.6 494.0 L140.2 493.5 L140.8 493.0 L141.4 492.5 L142.1 492.0 L142.7 491.5 L143.3 491.0 L143.9 490.5 L144.6 490.0 L145.2 489.5 L145.8 489.0 L146.4 488.5 L147.0 488.0 L147.7 487.5 L148.3 487.0 L148.9 486.5 L149.5 486.0 L150.1 485.5 L150.8 485.0 L151.4 484.6 L152.0 484.1 L152.6 483.6 L153.3 483.1 L153.9 482.6 L154.5 482.1 L155.1 481.6 L155.7 481.1 L156.4 480.6 L157.0 480.1 L157.6 479.6 L158.2 479.1 L158.8 478.6 L159.5 478.1 L160.1 477.6 L160.7 477.1 L161.3 476.6 L162.0 476.1 L162.6 475.6 L163.2 475.1 L163.8 474.6 L164.4 474.1 L165.1 473.6 L165.7 473.1 L166.3 472.6 L166.9 472.1 L167.5 471.6 L168.2 471.1 L168.8 470.7 L169.4 470.2 L170.0 469.7 L170.7 469.2 L171.3 468.7 L171.9 468.2 L172.5 467.7 L173.1 467.2 L173.8 466.7 L174.4 466.2 L175.0 465.7 L175.6 465.2 L176.2 464.7 L176.9 464.2 L177.5 463.7 L178.1 463.2 L178.7 462.7 L179.4 462.2 L180.0 461.7 L180.6 461.2 L181.2 460.7 L181.8 460.2 L182.5 459.7 L183.1 459.3 L183.7 458.8 L184.3 458.3 L184.9 457.8 L185.6 457.3 L186.2 456.8 L186.8 456.3 L187.4 455.8 L188.1 455.3 L188.7 454.8 L189.3 454.3 L189.9 453.8 L190.5 453.3 L191.2 452.8 L191.8 452.3 L192.4 451.8 L193.0 451.3 L193.6 450.8 L194.3 450.3 L194.9 449.8 L195.5 449.4 L196.1 448.9 L196.8 448.4 L197.4 447.9 L198.0 447.4 L198.6 446.9 L199.2 446.4 L199.9 445.9 L200.5 445.4 L201.1 444.9 L201.7 444.4 L202.3 443.9 L203.0 443.4 L203.6 442.9 L204.2 442.4 L204.8 441.9 L205.4 441.4 L206.1 440.9 L206.7 440.5 L207.3 440.0 L207.9 439.5 L208.6 439.0 L209.2 438.5 L209.8 438.0 L210.4 437.5 L211.0 437.0 L211.7 436.5 L212.3 436.0 L212.9 435.5 L213.5 435.0 L214.1 434.5 L214.8 434.0 L215.4 433.5 L216.0 433.0 L216.6 432.6 L217.3 432.1 L217.9 431.6 L218.5 431.1 L219.1 430.6 L219.7 430.1 L220.4 429.6 L221.0 429.1 L221.6 428.6 L222.2 428.1 L222.8 427.6 L223.5 427.1 L224.1 426.6 L224.7 426.1 L225.3 425.6 L226.0 425.2 L226.6 424.7 L227.2 424.2 L227.8 423.7 L228.4 423.2 L229.1 422.7 L229.7 422.2 L230.3 421.7 L230.9 421.2 L231.5 420.7 L232.2 420.2 L232.8 419.7 L233.4 419.2 L234.0 418.8 L234.7 418.3 L235.3 417.8 L235.9 417.3 L236.5 416.8 L237.1 416.3 L237.8 415.8 L238.4 415.3 L239.0 414.8 L239.6 414.3 L240.2 413.8 L240.9 413.3 L241.5 412.8 L242.1 412.4 L242.7 411.9 L243.4 411.4 L244.0 410.9 L244.6 410.4 L245.2 409.9 L245.8 409.4 L246.5 408.9 L247.1 408.4 L247.7 407.9 L248.3 407.4 L248.9 406.9 L249.6 406.5 L250.2 406.0 L250.8 405.5 L251.4 405.0 L252.1 404.5 L252.7 404.0 L253.3 403.5 L253.9 403.0 L254.5 402.5 L255.2 402.0 L255.8 401.6 L256.4 401.1 L257.0 400.6 L257.7 400.1 L258.3 399.6 L258.9 399.1 L259.5 398.6 L260.1 398.1 L260.8 397.6 L261.4 397.2 L262.0 396.7 L262.6 396.2 L263.2 395.7 L263.9 395.2 L264.5 394.7 L265.1 394.2 L265.7 393.8 L266.4 393.3 L267.0 392.8 L267.6 392.3 L268.2 391.8 L268.8 391.3 L269.5 390.8 L270.1 390.4 L270.7 389.9 L271.3 389.4 L272.0 388.9 L272.6 388.4 L273.2 388.0 L273.8 387.5 L274.4 387.0 L275.1 386.5 L275.7 386.0 L276.3 385.6 L276.9 385.1 L277.6 384.6 L278.2 384.1 L278.8 383.7 L279.4 383.2 L280.1 382.7 L280.7 382.3 L281.3 381.8 L281.9 381.3 L282.6 380.9 L283.2 380.4 L283.8 379.9 L284.4 379.5 L285.1 379.0 L285.7 378.6 L286.3 378.1 L286.9 377.7 L287.6 377.2 L288.2 376.8 L288.8 376.3 L289.4 375.9 L290.1 375.4 L290.7 375.0 L291.3 374.6 L291.9 374.1 L292.6 373.7 L293.2 373.3 L293.8 372.9 L294.5 372.5 L295.1 372.1 L295.7 371.7 L296.4 371.3 L297.0 370.9 L297.6 370.5 L298.2 370.1 L298.9 369.7 L299.5 369.4 L300.2 369.0 L300.8 368.7 L301.4 368.3 L302.1 368.0 L302.7 367.7 L303.3 367.4 L304.0 367.1 L304.6 366.8 L305.3 366.5 L305.9 366.2 L306.6 366.0 L307.2 365.7 L307.8 365.5 L308.5 365.3 L309.1 365.1 L309.8 365.0 L310.5 364.8 L311.1 364.7 L311.8 364.6 L312.4 364.5 L313.1 364.4 L313.8 364.4 L314.4 364.4 L315.1 364.4 L315.8 364.5 L316.5 364.6 L317.1 364.7 L317.8 364.9 L318.5 365.1 L319.2 365.3 L319.9 365.6 L320.6 365.9 L321.3 366.3 L322.0 366.8 L322.7 367.2 L323.4 367.8 L324.2 368.4 L324.9 369.1 L325.6 369.9 L326.4 370.7 L327.1 371.6 L327.9 372.6 L328.6 373.7 L329.4 374.9 L329.8 375.6 L330.2 376.2 L330.6 376.9 L331.0 377.7 L331.4 378.4 L331.8 379.2 L332.2 380.0 L332.6 380.8 L333.0 381.7 L333.4 382.6 L333.8 383.6 L334.2 384.5 L334.7 385.6 L335.1 386.6 L335.5 387.7 L335.9 388.9 L336.4 390.0 L336.8 391.3 L337.3 392.5 L337.7 393.8 L338.1 395.2 L338.6 396.6 L339.1 398.1 L339.5 399.6 L340.0 401.2 L340.5 402.8 L340.9 404.5 L341.4 406.2 L341.9 408.0 L342.4 409.9 L342.9 411.8 L343.4 413.8 L343.9 415.9 L344.4 418.1 L344.9 420.3 L345.4 422.6 L345.9 424.9 L346.5 427.4 L347.0 429.9 L347.6 432.6 L348.1 435.3 L348.7 438.1 L349.2 441.0 L349.8 444.0 L350.4 447.1 L351.0 450.4 L351.6 453.7 L352.2 457.1 L352.8 460.7 L353.4 464.4 L354.0 468.2 L354.7 472.1 L355.3 476.2 L356.0 480.4 L356.6 484.7 L357.3 489.2 L358.0 493.9 L358.7 498.7 L359.4 503.6 L360.1 508.8 L360.9 514.1 L361.6 519.6 L362.4 525.3 L363.1 531.1 L363.6 534.6" fill="none" stroke="#4C7FC2" stroke-width="1.5" stroke-linejoin="round"/>
<path d="M89.0 534.6 L89.8 533.8 L90.4 533.1 L91.1 532.5 L91.7 531.9 L92.3 531.2 L93.0 530.6 L93.6 530.0 L94.2 529.3 L94.8 528.7 L95.5 528.1 L96.1 527.5 L96.7 526.8 L97.4 526.2 L98.0 525.6 L98.6 524.9 L99.2 524.3 L99.9 523.7 L100.5 523.0 L101.1 522.4 L101.7 521.8 L102.4 521.1 L103.0 520.5 L103.6 519.9 L104.3 519.2 L104.9 518.6 L105.5 518.0 L106.1 517.3 L106.8 516.7 L107.4 516.1 L108.0 515.5 L108.7 514.8 L109.3 514.2 L109.9 513.6 L110.5 512.9 L111.2 512.3 L111.8 511.7 L112.4 511.0 L113.0 510.4 L113.7 509.8 L114.3 509.1 L114.9 508.5 L115.6 507.9 L116.2 507.2 L116.8 506.6 L117.4 506.0 L118.1 505.4 L118.7 504.7 L119.3 504.1 L120.0 503.5 L120.6 502.8 L121.2 502.2 L121.8 501.6 L122.5 500.9 L123.1 500.3 L123.7 499.7 L124.3 499.0 L125.0 498.4 L125.6 497.8 L126.2 497.2 L126.9 496.5 L127.5 495.9 L128.1 495.3 L128.7 494.6 L129.4 494.0 L130.0 493.4 L130.6 492.7 L131.3 492.1 L131.9 491.5 L132.5 490.9 L133.1 490.2 L133.8 489.6 L134.4 489.0 L135.0 488.3 L135.6 487.7 L136.3 487.1 L136.9 486.4 L137.5 485.8 L138.2 485.2 L138.8 484.6 L139.4 483.9 L140.0 483.3 L140.7 482.7 L141.3 482.0 L141.9 481.4 L142.5 480.8 L143.2 480.2 L143.8 479.5 L144.4 478.9 L145.1 478.3 L145.7 477.6 L146.3 477.0 L146.9 476.4 L147.6 475.7 L148.2 475.1 L148.8 474.5 L149.5 473.9 L150.1 473.2 L150.7 472.6 L151.3 472.0 L152.0 471.3 L152.6 470.7 L153.2 470.1 L153.8 469.5 L154.5 468.8 L155.1 468.2 L155.7 467.6 L156.4 466.9 L157.0 466.3 L157.6 465.7 L158.2 465.1 L158.9 464.4 L159.5 463.8 L160.1 463.2 L160.8 462.5 L161.4 461.9 L162.0 461.3 L162.6 460.7 L163.3 460.0 L163.9 459.4 L164.5 458.8 L165.1 458.1 L165.8 457.5 L166.4 456.9 L167.0 456.3 L167.7 455.6 L168.3 455.0 L168.9 454.4 L169.5 453.7 L170.2 453.1 L170.8 452.5 L171.4 451.9 L172.1 451.2 L172.7 450.6 L173.3 450.0 L173.9 449.3 L174.6 448.7 L175.2 448.1 L175.8 447.5 L176.4 446.8 L177.1 446.2 L177.7 445.6 L178.3 445.0 L179.0 444.3 L179.6 443.7 L180.2 443.1 L180.8 442.4 L181.5 441.8 L182.1 441.2 L182.7 440.6 L183.3 439.9 L184.0 439.3 L184.6 438.7 L185.2 438.0 L185.9 437.4 L186.5 436.8 L187.1 436.2 L187.7 435.5 L188.4 434.9 L189.0 434.3 L189.6 433.7 L190.3 433.0 L190.9 432.4 L191.5 431.8 L192.1 431.2 L192.8 430.5 L193.4 429.9 L194.0 429.3 L194.6 428.6 L195.3 428.0 L195.9 427.4 L196.5 426.8 L197.2 426.1 L197.8 425.5 L198.4 424.9 L199.0 424.3 L199.7 423.6 L200.3 423.0 L200.9 422.4 L201.6 421.7 L202.2 421.1 L202.8 420.5 L203.4 419.9 L204.1 419.2 L204.7 418.6 L205.3 418.0 L205.9 417.4 L206.6 416.7 L207.2 416.1 L207.8 415.5 L208.5 414.9 L209.1 414.2 L209.7 413.6 L210.3 413.0 L211.0 412.4 L211.6 411.7 L212.2 411.1 L212.9 410.5 L213.5 409.9 L214.1 409.2 L214.7 408.6 L215.4 408.0 L216.0 407.4 L216.6 406.7 L217.2 406.1 L217.9 405.5 L218.5 404.8 L219.1 404.2 L219.8 403.6 L220.4 403.0 L221.0 402.3 L221.6 401.7 L222.3 401.1 L222.9 400.5 L223.5 399.8 L224.1 399.2 L224.8 398.6 L225.4 398.0 L226.0 397.3 L226.7 396.7 L227.3 396.1 L227.9 395.5 L228.5 394.8 L229.2 394.2 L229.8 393.6 L230.4 393.0 L231.1 392.3 L231.7 391.7 L232.3 391.1 L232.9 390.5 L233.6 389.8 L234.2 389.2 L234.8 388.6 L235.4 388.0 L236.1 387.4 L236.7 386.7 L237.3 386.1 L238.0 385.5 L238.6 384.9 L239.2 384.2 L239.8 383.6 L240.5 383.0 L241.1 382.4 L241.7 381.7 L242.4 381.1 L243.0 380.5 L243.6 379.9 L244.2 379.2 L244.9 378.6 L245.5 378.0 L246.1 377.4 L246.7 376.7 L247.4 376.1 L248.0 375.5 L248.6 374.9 L249.3 374.3 L249.9 373.6 L250.5 373.0 L251.1 372.4 L251.8 371.8 L252.4 371.1 L253.0 370.5 L253.7 369.9 L254.3 369.3 L254.9 368.7 L255.5 368.0 L256.2 367.4 L256.8 366.8 L257.4 366.2 L258.1 365.6 L258.7 364.9 L259.3 364.3 L259.9 363.7 L260.6 363.1 L261.2 362.5 L261.8 361.8 L262.5 361.2 L263.1 360.6 L263.7 360.0 L264.3 359.4 L265.0 358.8 L265.6 358.1 L266.2 357.5 L266.9 356.9 L267.5 356.3 L268.1 355.7 L268.7 355.1 L269.4 354.5 L270.0 353.8 L270.6 353.2 L271.3 352.6 L271.9 352.0 L272.5 351.4 L273.1 350.8 L273.8 350.2 L274.4 349.6 L275.0 349.0 L275.7 348.4 L276.3 347.8 L276.9 347.2 L277.6 346.6 L278.2 346.0 L278.8 345.4 L279.4 344.8 L280.1 344.2 L280.7 343.6 L281.3 343.0 L282.0 342.4 L282.6 341.8 L283.2 341.2 L283.9 340.7 L284.5 340.1 L285.1 339.5 L285.8 338.9 L286.4 338.4 L287.0 337.8 L287.7 337.2 L288.3 336.7 L288.9 336.1 L289.6 335.5 L290.2 335.0 L290.8 334.5 L291.5 333.9 L292.1 333.4 L292.8 332.9 L293.4 332.3 L294.0 331.8 L294.7 331.3 L295.3 330.8 L296.0 330.3 L296.6 329.8 L297.2 329.3 L297.9 328.9 L298.5 328.4 L299.2 327.9 L299.8 327.5 L300.5 327.1 L301.1 326.7 L301.8 326.2 L302.4 325.9 L303.1 325.5 L303.7 325.1 L304.4 324.8 L305.0 324.4 L305.7 324.1 L306.4 323.8 L307.0 323.5 L307.7 323.3 L308.4 323.1 L309.0 322.9 L309.7 322.7 L310.4 322.5 L311.0 322.4 L311.7 322.3 L312.4 322.2 L313.1 322.2 L313.8 322.2 L314.5 322.3 L315.2 322.4 L315.9 322.5 L316.6 322.7 L317.3 322.9 L318.0 323.2 L318.7 323.5 L319.5 323.9 L320.2 324.4 L320.9 324.9 L321.7 325.5 L322.4 326.2 L323.2 326.9 L323.9 327.8 L324.7 328.7 L325.5 329.7 L326.3 330.9 L326.7 331.5 L327.1 332.1 L327.5 332.8 L327.9 333.5 L328.3 334.2 L328.7 335.0 L329.1 335.7 L329.5 336.6 L330.0 337.4 L330.4 338.3 L330.8 339.3 L331.2 340.2 L331.7 341.2 L332.1 342.3 L332.6 343.4 L333.0 344.5 L333.4 345.7 L333.9 346.9 L334.3 348.2 L334.8 349.5 L335.3 350.9 L335.7 352.3 L336.2 353.8 L336.7 355.4 L337.2 357.0 L337.6 358.6 L338.1 360.3 L338.6 362.1 L339.1 364.0 L339.6 365.9 L340.2 367.9 L340.7 369.9 L341.2 372.1 L341.7 374.3 L342.3 376.6 L342.8 379.0 L343.3 381.4 L343.9 384.0 L344.5 386.6 L345.0 389.3 L345.6 392.2 L346.2 395.1 L346.8 398.1 L347.4 401.3 L348.0 404.5 L348.6 407.9 L349.2 411.4 L349.9 415.0 L350.5 418.7 L351.1 422.6 L351.8 426.6 L352.5 430.8 L353.2 435.1 L353.9 439.5 L354.6 444.1 L355.3 448.9 L356.0 453.8 L356.7 458.9 L357.5 464.2 L358.2 469.6 L359.0 475.3 L359.8 481.1 L360.6 487.2 L361.4 493.4 L362.2 499.9 L363.1 506.6 L363.9 513.6 L364.8 520.8 L365.7 528.3 L366.5 534.6" fill="none" stroke="#A3530E" stroke-width="1.5" stroke-linejoin="round"/>
<text class="ax" x="75.2" y="539.0" text-anchor="end">0</text>
<text class="ax" x="426.2" y="539.0">0</text>
<text class="ax" x="75.2" y="498.2" text-anchor="end">1</text>
<text class="ax" x="426.2" y="498.2">50</text>
<text class="ax" x="75.2" y="457.4" text-anchor="end">2</text>
<text class="ax" x="426.2" y="457.4">100</text>
<text class="ax" x="75.2" y="416.5" text-anchor="end">3</text>
<text class="ax" x="426.2" y="416.5">150</text>
<text class="ax" x="75.2" y="375.7" text-anchor="end">4</text>
<text class="ax" x="426.2" y="375.7">200</text>
<text class="ax" x="75.2" y="334.9" text-anchor="end">5</text>
<text class="ax" x="426.2" y="334.9">250</text>
<text class="ax" x="75.2" y="294.1" text-anchor="end">6</text>
<text class="ax" x="426.2" y="294.1">300</text>
<text class="ax" x="88.7" y="556.8" text-anchor="middle">0</text>
<text class="ax" x="135.0" y="556.8" text-anchor="middle">10</text>
<text class="ax" x="181.3" y="556.8" text-anchor="middle">20</text>
<text class="ax" x="227.7" y="556.8" text-anchor="middle">30</text>
<text class="ax" x="274.0" y="556.8" text-anchor="middle">40</text>
<text class="ax" x="320.3" y="556.8" text-anchor="middle">50</text>
<text class="ax" x="366.6" y="556.8" text-anchor="middle">60</text>
<text class="ax" x="412.9" y="556.8" text-anchor="middle">70</text>
<text class="cj" x="56.3" y="385.3" text-anchor="middle">电</text>
<text class="cj" x="56.3" y="403.3" text-anchor="middle">流</text>
<clipPath id="cl"><rect x="452.2" y="365" width="19" height="45"/></clipPath>
<g clip-path="url(#cl)"><text class="cj" x="459.2" y="384.6" text-anchor="middle">功</text>
<text class="cj" x="459.6" y="403.2" text-anchor="middle">率</text></g>
<rect x="452.1" y="374" width="0.7" height="11" fill="#f3b36a" opacity="0.7"/>
<rect x="452.1" y="390" width="0.7" height="5" fill="#f3b36a" opacity="0.7"/>
<text class="cj" x="245.3" y="580.3" text-anchor="middle">电压</text>
<rect x="213.4" y="565.0" width="1.0" height="1" fill="#222" opacity="0.25"/>
<rect x="233.6" y="565.0" width="1.2" height="1" fill="#222" opacity="0.80"/>
<rect x="274.2" y="565.0" width="1.0" height="1" fill="#222" opacity="0.30"/>
<rect x="280.0" y="565.0" width="1.0" height="1" fill="#222" opacity="0.50"/>
<rect x="291.7" y="565.0" width="1.0" height="1" fill="#222" opacity="0.30"/>
<rect x="179.0" y="591.2" width="2.2" height="1" fill="#222" opacity="0.90"/>
<rect x="185.8" y="591.2" width="1.0" height="1" fill="#222" opacity="0.80"/>
<rect x="188.8" y="591.2" width="1.0" height="1" fill="#222" opacity="0.80"/>
<rect x="198.0" y="591.2" width="1.2" height="1" fill="#222" opacity="0.80"/>
<rect x="202.0" y="591.2" width="1.2" height="1" fill="#222" opacity="0.70"/>
<rect x="237.8" y="591.2" width="1.0" height="1" fill="#222" opacity="0.90"/>
<rect x="240.9" y="591.2" width="1.0" height="1" fill="#222" opacity="0.90"/>
<rect x="246.0" y="591.2" width="1.0" height="1" fill="#222" opacity="0.80"/>
<rect x="249.5" y="591.2" width="1.0" height="1" fill="#222" opacity="0.80"/>
<rect x="252.0" y="591.2" width="1.0" height="1" fill="#222" opacity="0.60"/>
<line x1="58.5" y1="600.5" x2="69.5" y2="600.5" stroke="#A83A3F" stroke-width="3" stroke-linecap="round"/>
<text class="lg" x="73.7" y="605.8" textLength="60.1" lengthAdjust="spacing">1000 W/m²</text>
<line x1="141.0" y1="600.5" x2="152.5" y2="600.5" stroke="#3F6DAE" stroke-width="3" stroke-linecap="round"/>
<text class="lg" x="156.2" y="605.8" textLength="53.4" lengthAdjust="spacing">800 W/m²</text>
<line x1="222.5" y1="600.5" x2="233.1" y2="600.5" stroke="#3A9DB6" stroke-width="3" stroke-linecap="round"/>
<text class="lg" x="237.6" y="605.8" textLength="53.2" lengthAdjust="spacing">600 W/m²</text>
<line x1="302.7" y1="600.5" x2="314.2" y2="600.5" stroke="#6F5298" stroke-width="3" stroke-linecap="round"/>
<text class="lg" x="319.4" y="605.8" textLength="53.1" lengthAdjust="spacing">400 W/m²</text>
<line x1="383.7" y1="600.5" x2="394.7" y2="600.5" stroke="#8FB14B" stroke-width="3" stroke-linecap="round"/>
<text class="lg" x="401.5" y="605.8" textLength="53.2" lengthAdjust="spacing">200 W/m²</text>
<line x1="34.5" y1="271" x2="34.5" y2="620" stroke="#262626" stroke-width="1"/>
<line x1="471.5" y1="271" x2="471.5" y2="620" stroke="#262626" stroke-width="1"/>
<rect x="452.1" y="443.2" width="0.8" height="5" fill="#f0a030"/>
<line x1="33" y1="77.5" x2="653.6" y2="77.5" stroke="#000" stroke-width="1.00" shape-rendering="crispEdges"/>
<line x1="33" y1="121.5" x2="667.5" y2="121.5" stroke="#000" stroke-width="1.00" shape-rendering="crispEdges"/>
<line x1="33" y1="165.5" x2="667.5" y2="165.5" stroke="#000" stroke-width="1.00" shape-rendering="crispEdges"/>
<line x1="33" y1="208.5" x2="671.0" y2="208.5" stroke="#000" stroke-width="1.00" shape-rendering="crispEdges"/>
<line x1="33" y1="702.5" x2="385.0" y2="702.5" stroke="#000" stroke-width="1.00" shape-rendering="crispEdges"/>
<line x1="33" y1="744.5" x2="380.6" y2="744.5" stroke="#000" stroke-width="1.00" shape-rendering="crispEdges"/>
<line x1="33" y1="786.5" x2="396.0" y2="786.5" stroke="#000" stroke-width="1.00" shape-rendering="crispEdges"/>
<line x1="33" y1="827.5" x2="371.8" y2="827.5" stroke="#000" stroke-width="1.00" shape-rendering="crispEdges"/>
<line x1="33" y1="869.5" x2="328.0" y2="869.5" stroke="#000" stroke-width="1.00" shape-rendering="crispEdges"/>
<line x1="33" y1="911.5" x2="384.6" y2="911.5" stroke="#000" stroke-width="1.00" shape-rendering="crispEdges"/>
<line x1="33" y1="953.5" x2="386.1" y2="953.5" stroke="#000" stroke-width="1.00" shape-rendering="crispEdges"/>
</svg>
</body>
</html>
